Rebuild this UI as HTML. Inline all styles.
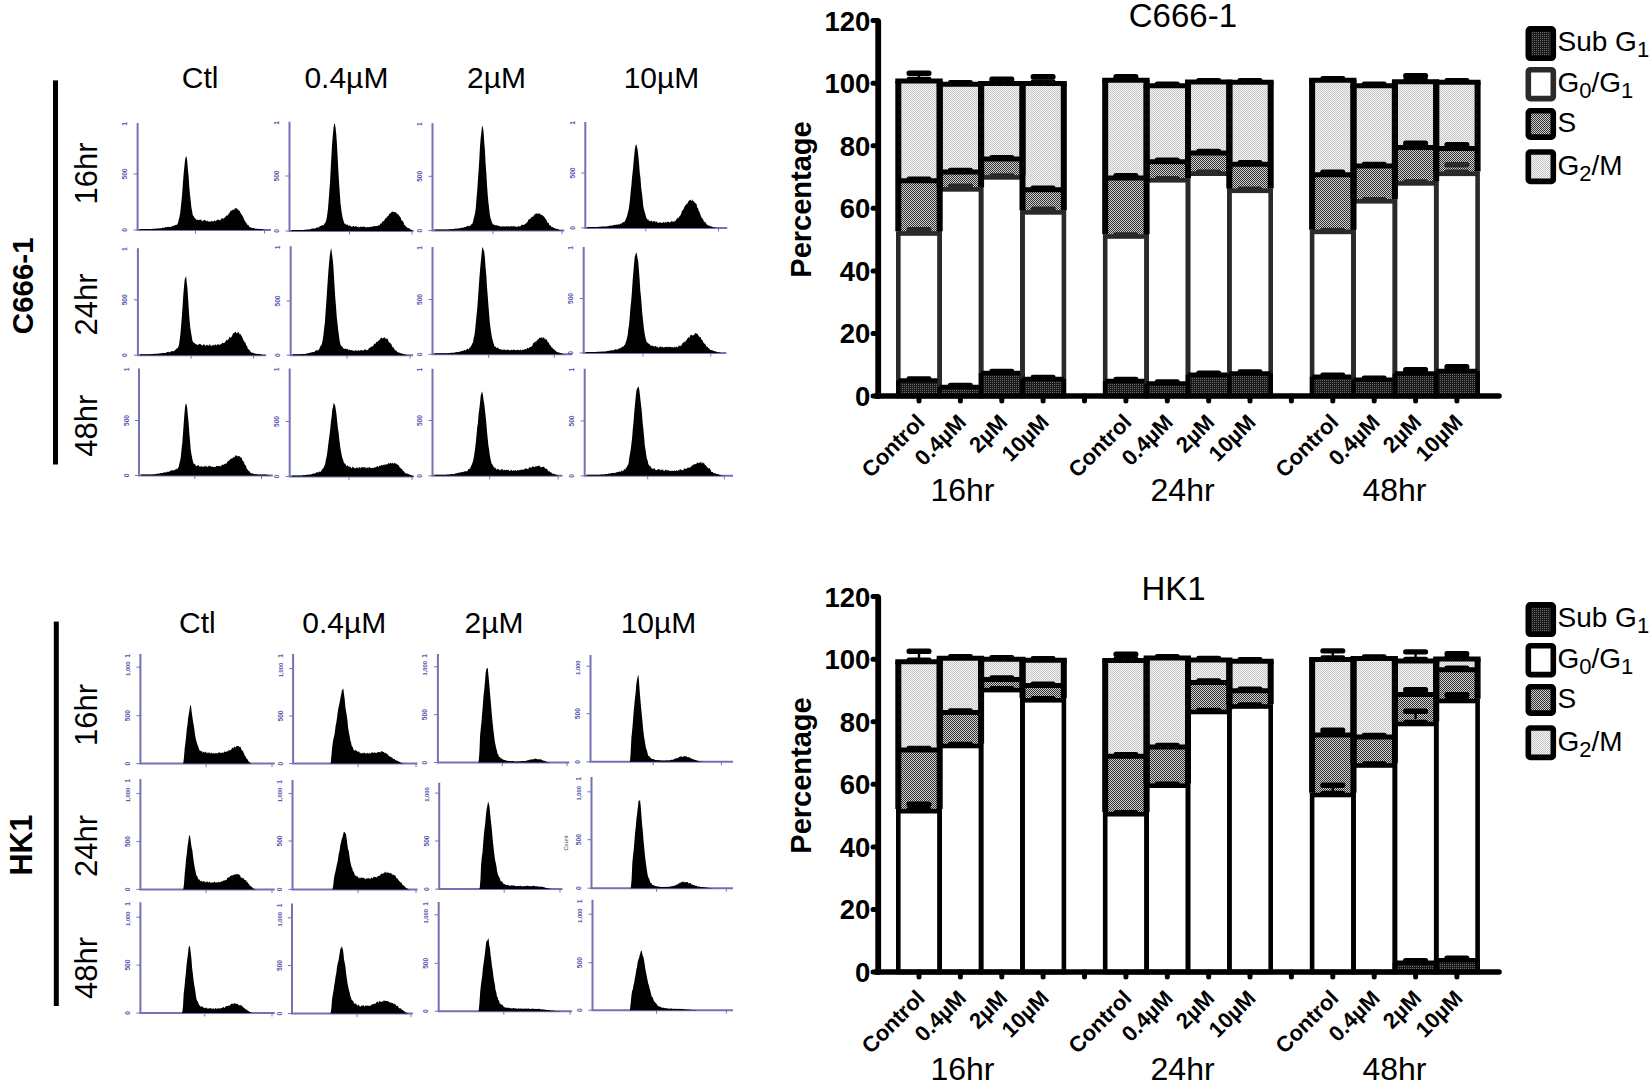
<!DOCTYPE html><html><head><meta charset="utf-8"><style>html,body{margin:0;padding:0;background:#fff;}svg{display:block;}</style></head><body><svg width="1650" height="1085" viewBox="0 0 1650 1085" font-family='"Liberation Sans", Arial, sans-serif'><defs><pattern id="pG2" width="2" height="2" patternUnits="userSpaceOnUse"><rect width="2" height="2" fill="#f4f4f4"/><rect width="1" height="1" fill="#c6c6c6"/><rect x="1" y="1" width="1" height="1" fill="#c6c6c6"/></pattern><pattern id="pS" width="2" height="2" patternUnits="userSpaceOnUse"><rect width="2" height="2" fill="#cfcfcf"/><rect width="1" height="1" fill="#303030"/><rect x="1" y="1" width="1" height="1" fill="#303030"/></pattern><pattern id="pSub" width="2" height="2" patternUnits="userSpaceOnUse"><rect width="2" height="2" fill="#1a1a1a"/><rect width="1" height="1" fill="#6a6a6a"/></pattern></defs><rect width="1650" height="1085" fill="#fff"/><text x="200.2" y="87.9" font-size="30" text-anchor="middle">Ctl</text><text x="346.4" y="87.9" font-size="30" text-anchor="middle">0.4µM</text><text x="496.6" y="87.9" font-size="30" text-anchor="middle">2µM</text><text x="661.5" y="87.9" font-size="30" text-anchor="middle">10µM</text><rect x="53.0" y="80.4" width="5" height="384.1" fill="#000"/><text transform="translate(33.0 285.8) rotate(-90)" font-size="29.5" font-weight="bold" text-anchor="middle">C666-1</text><text transform="translate(96.8 173.5) rotate(-90)" font-size="31" text-anchor="middle">16hr</text><text transform="translate(96.8 304.5) rotate(-90)" font-size="31" text-anchor="middle">24hr</text><text transform="translate(96.8 425.8) rotate(-90)" font-size="31" text-anchor="middle">48hr</text><path d="M137.6 123.0 V230.0 H271.0" fill="none" stroke="#7272b4" stroke-width="2"/><text transform="translate(127.1 124.0) rotate(-90)" font-size="6.6" font-weight="bold" fill="#5858b0" text-anchor="middle">1</text><path d="M133.6 174.0 H137.6" stroke="#7272b4" stroke-width="1"/><text transform="translate(127.1 174.0) rotate(-90)" font-size="6.6" font-weight="bold" fill="#5858b0" text-anchor="middle">500</text><path d="M133.6 230.0 H137.6" stroke="#7272b4" stroke-width="1"/><text transform="translate(127.1 230.0) rotate(-90)" font-size="6.6" font-weight="bold" fill="#5858b0" text-anchor="middle">0</text><path d="M195.5 230.0 V233.5" stroke="#7272b4" stroke-width="1"/><path d="M264.5 230.0 V233.5" stroke="#7272b4" stroke-width="1"/><path d="M139.6 230.0 L139.6 229.0 L140.3 229.0 L141.0 229.0 L141.7 229.0 L142.4 229.0 L143.1 229.0 L143.8 229.0 L144.5 229.0 L145.2 229.0 L145.9 229.0 L146.6 229.0 L147.3 229.0 L148.0 229.0 L148.7 229.0 L149.4 229.0 L150.1 229.0 L150.8 228.9 L151.5 228.9 L152.2 228.9 L152.9 228.8 L153.6 228.8 L154.3 228.8 L155.0 228.6 L155.7 228.8 L156.4 228.5 L157.1 228.5 L157.8 228.6 L158.5 228.3 L159.2 228.5 L159.9 228.2 L160.6 228.3 L161.3 228.2 L162.0 228.0 L162.7 227.6 L163.4 227.9 L164.1 227.8 L164.8 227.4 L165.5 227.1 L166.2 227.2 L166.9 227.3 L167.6 226.7 L168.3 227.3 L169.0 226.5 L169.7 226.9 L170.4 226.9 L171.1 226.8 L171.8 226.4 L172.5 225.7 L173.2 226.2 L173.9 225.6 L174.6 225.2 L175.3 225.3 L176.0 224.7 L176.7 224.9 L177.4 224.1 L178.1 222.4 L178.8 219.3 L179.5 216.7 L180.2 212.7 L180.9 206.4 L181.6 199.8 L182.3 192.1 L183.0 181.7 L183.7 172.9 L184.4 166.5 L185.1 159.6 L185.8 156.9 L186.5 156.3 L187.2 161.0 L187.9 169.5 L188.6 175.9 L189.3 187.2 L190.0 194.4 L190.7 200.5 L191.4 207.6 L192.1 211.1 L192.8 215.2 L193.5 215.9 L194.2 217.1 L194.9 218.4 L195.6 218.4 L196.3 219.9 L197.0 219.4 L197.7 219.8 L198.4 219.9 L199.1 220.3 L199.8 219.6 L200.5 219.5 L201.2 220.6 L201.9 220.3 L202.6 221.5 L203.3 220.3 L204.0 220.5 L204.7 219.8 L205.4 220.2 L206.1 221.3 L206.8 221.1 L207.5 220.6 L208.2 221.9 L208.9 221.0 L209.6 221.6 L210.3 221.7 L211.0 221.8 L211.7 220.4 L212.4 221.6 L213.1 221.4 L213.8 221.1 L214.5 220.1 L215.2 221.6 L215.9 220.8 L216.6 220.5 L217.3 219.7 L218.0 219.7 L218.7 219.4 L219.4 220.4 L220.1 219.9 L220.8 219.7 L221.5 218.4 L222.2 217.8 L222.9 219.1 L223.6 218.6 L224.3 218.0 L225.0 217.5 L225.7 216.4 L226.4 215.5 L227.1 215.6 L227.8 215.5 L228.5 213.9 L229.2 213.3 L229.9 212.2 L230.6 210.7 L231.3 210.7 L232.0 210.6 L232.7 209.8 L233.4 209.3 L234.1 210.4 L234.8 208.2 L235.5 208.4 L236.2 208.1 L236.9 208.4 L237.6 209.5 L238.3 209.8 L239.0 211.0 L239.7 210.5 L240.4 212.7 L241.1 213.8 L241.8 214.7 L242.5 216.0 L243.2 217.0 L243.9 218.9 L244.6 220.4 L245.3 221.4 L246.0 222.8 L246.7 223.4 L247.4 225.1 L248.1 224.7 L248.8 225.8 L249.5 226.9 L250.2 227.2 L250.9 227.4 L251.6 227.7 L252.3 228.1 L253.0 227.9 L253.7 228.0 L254.4 228.4 L255.1 228.5 L255.8 228.8 L256.5 228.8 L257.2 228.8 L257.9 228.8 L258.6 228.9 L259.3 228.9 L260.0 228.9 L260.7 229.0 L261.4 229.1 L262.1 229.3 L262.8 229.4 L263.5 229.6 L264.2 229.7 L264.9 229.7 L265.6 229.7 L266.0 230.0 Z" fill="#000"/><path d="M289.5 121.8 V231.0 H413.6" fill="none" stroke="#7272b4" stroke-width="2"/><text transform="translate(279.0 122.8) rotate(-90)" font-size="6.6" font-weight="bold" fill="#5858b0" text-anchor="middle">1</text><path d="M285.5 176.0 H289.5" stroke="#7272b4" stroke-width="1"/><text transform="translate(279.0 176.0) rotate(-90)" font-size="6.6" font-weight="bold" fill="#5858b0" text-anchor="middle">500</text><path d="M285.5 231.0 H289.5" stroke="#7272b4" stroke-width="1"/><text transform="translate(279.0 231.0) rotate(-90)" font-size="6.6" font-weight="bold" fill="#5858b0" text-anchor="middle">0</text><path d="M349.5 231.0 V234.5" stroke="#7272b4" stroke-width="1"/><path d="M412.0 231.0 V234.5" stroke="#7272b4" stroke-width="1"/><path d="M291.5 231.0 L291.5 230.0 L292.2 230.0 L292.9 230.0 L293.6 230.0 L294.3 230.0 L295.0 230.0 L295.7 230.0 L296.4 230.0 L297.1 230.0 L297.8 230.0 L298.5 230.0 L299.2 230.0 L299.9 230.0 L300.6 230.0 L301.3 230.0 L302.0 229.9 L302.7 229.9 L303.4 229.9 L304.1 229.8 L304.8 229.8 L305.5 229.6 L306.2 229.7 L306.9 229.7 L307.6 229.3 L308.3 229.4 L309.0 229.4 L309.7 229.2 L310.4 229.3 L311.1 229.0 L311.8 228.6 L312.5 228.5 L313.2 228.5 L313.9 228.6 L314.6 228.4 L315.3 228.4 L316.0 227.7 L316.7 227.7 L317.4 227.3 L318.1 227.5 L318.8 227.4 L319.5 226.5 L320.2 226.0 L320.9 225.9 L321.6 225.6 L322.3 225.2 L323.0 224.9 L323.7 225.2 L324.4 223.8 L325.1 222.9 L325.8 221.8 L326.5 219.1 L327.2 214.7 L327.9 209.4 L328.6 201.2 L329.3 191.5 L330.0 182.4 L330.7 168.9 L331.4 156.1 L332.1 143.9 L332.8 135.4 L333.5 128.0 L334.2 123.7 L334.9 123.7 L335.6 128.1 L336.3 134.8 L337.0 145.0 L337.7 157.8 L338.4 171.7 L339.1 182.9 L339.8 192.9 L340.5 203.4 L341.2 208.8 L341.9 213.4 L342.6 217.4 L343.3 220.0 L344.0 222.3 L344.7 224.0 L345.4 223.6 L346.1 224.9 L346.8 224.4 L347.5 224.4 L348.2 225.7 L348.9 225.8 L349.6 225.2 L350.3 225.7 L351.0 226.6 L351.7 226.8 L352.4 226.8 L353.1 225.9 L353.8 226.1 L354.5 227.1 L355.2 226.3 L355.9 226.1 L356.6 226.6 L357.3 227.0 L358.0 226.8 L358.7 227.3 L359.4 227.5 L360.1 226.4 L360.8 226.8 L361.5 226.9 L362.2 226.5 L362.9 227.0 L363.6 226.5 L364.3 226.6 L365.0 227.3 L365.7 227.3 L366.4 227.2 L367.1 227.3 L367.8 226.9 L368.5 227.2 L369.2 227.0 L369.9 227.3 L370.6 226.4 L371.3 227.0 L372.0 226.8 L372.7 226.6 L373.4 226.1 L374.1 226.6 L374.8 225.8 L375.5 226.2 L376.2 225.9 L376.9 225.7 L377.6 226.3 L378.3 225.2 L379.0 225.3 L379.7 225.2 L380.4 223.2 L381.1 223.9 L381.8 222.7 L382.5 221.5 L383.2 221.2 L383.9 220.9 L384.6 219.7 L385.3 218.8 L386.0 217.4 L386.7 218.0 L387.4 216.2 L388.1 216.1 L388.8 215.3 L389.5 213.5 L390.2 213.4 L390.9 212.8 L391.6 211.9 L392.3 211.3 L393.0 212.2 L393.7 211.7 L394.4 212.1 L395.1 212.3 L395.8 212.2 L396.5 213.2 L397.2 213.7 L397.9 214.6 L398.6 214.5 L399.3 216.0 L400.0 216.7 L400.7 217.6 L401.4 220.2 L402.1 220.7 L402.8 221.0 L403.5 222.3 L404.2 224.6 L404.9 225.5 L405.6 225.7 L406.3 226.9 L407.0 227.2 L407.7 227.9 L408.4 227.9 L409.1 228.3 L409.8 228.8 L410.5 229.6 L411.2 229.8 L411.9 230.1 L412.6 230.4 L413.0 231.0 Z" fill="#000"/><path d="M432.5 123.2 V230.6 H564.3" fill="none" stroke="#7272b4" stroke-width="2"/><text transform="translate(422.0 124.2) rotate(-90)" font-size="6.6" font-weight="bold" fill="#5858b0" text-anchor="middle">1</text><path d="M428.5 176.3 H432.5" stroke="#7272b4" stroke-width="1"/><text transform="translate(422.0 176.3) rotate(-90)" font-size="6.6" font-weight="bold" fill="#5858b0" text-anchor="middle">500</text><path d="M428.5 230.6 H432.5" stroke="#7272b4" stroke-width="1"/><text transform="translate(422.0 230.6) rotate(-90)" font-size="6.6" font-weight="bold" fill="#5858b0" text-anchor="middle">0</text><path d="M493.0 230.6 V234.1" stroke="#7272b4" stroke-width="1"/><path d="M562.0 230.6 V234.1" stroke="#7272b4" stroke-width="1"/><path d="M434.5 230.6 L434.5 229.6 L435.2 229.6 L435.9 229.6 L436.6 229.6 L437.3 229.6 L438.0 229.6 L438.7 229.6 L439.4 229.6 L440.1 229.6 L440.8 229.6 L441.5 229.6 L442.2 229.6 L442.9 229.6 L443.6 229.6 L444.3 229.6 L445.0 229.6 L445.7 229.5 L446.4 229.5 L447.1 229.5 L447.8 229.4 L448.5 229.3 L449.2 229.3 L449.9 229.4 L450.6 229.1 L451.3 229.0 L452.0 229.2 L452.7 228.9 L453.4 229.0 L454.1 228.9 L454.8 228.6 L455.5 228.6 L456.2 228.8 L456.9 228.6 L457.6 228.4 L458.3 228.4 L459.0 228.4 L459.7 228.2 L460.4 227.8 L461.1 228.2 L461.8 227.7 L462.5 227.6 L463.2 227.8 L463.9 227.4 L464.6 227.0 L465.3 226.9 L466.0 227.2 L466.7 225.9 L467.4 225.9 L468.1 225.4 L468.8 226.4 L469.5 225.9 L470.2 225.9 L470.9 224.2 L471.6 224.5 L472.3 223.8 L473.0 221.8 L473.7 218.8 L474.4 215.9 L475.1 213.0 L475.8 207.7 L476.5 198.6 L477.2 190.7 L477.9 180.0 L478.6 170.8 L479.3 159.4 L480.0 146.2 L480.7 137.8 L481.4 132.3 L482.1 125.6 L482.8 127.2 L483.5 131.1 L484.2 141.8 L484.9 149.4 L485.6 163.7 L486.3 172.7 L487.0 184.8 L487.7 194.8 L488.4 202.3 L489.1 207.9 L489.8 214.4 L490.5 218.3 L491.2 220.0 L491.9 222.3 L492.6 223.7 L493.3 224.3 L494.0 225.0 L494.7 225.1 L495.4 225.2 L496.1 225.4 L496.8 224.9 L497.5 225.8 L498.2 225.6 L498.9 226.2 L499.6 226.0 L500.3 226.6 L501.0 226.4 L501.7 226.8 L502.4 225.9 L503.1 226.2 L503.8 226.7 L504.5 226.4 L505.2 225.9 L505.9 226.9 L506.6 226.1 L507.3 226.6 L508.0 226.5 L508.7 226.1 L509.4 226.7 L510.1 226.5 L510.8 226.3 L511.5 226.0 L512.2 226.7 L512.9 226.1 L513.6 226.3 L514.3 226.3 L515.0 226.6 L515.7 226.6 L516.4 226.9 L517.1 226.8 L517.8 226.8 L518.5 225.8 L519.2 226.4 L519.9 226.4 L520.6 226.3 L521.3 225.0 L522.0 224.7 L522.7 224.7 L523.4 225.0 L524.1 224.7 L524.8 224.2 L525.5 223.4 L526.2 223.4 L526.9 222.3 L527.6 222.0 L528.3 219.9 L529.0 219.1 L529.7 219.2 L530.4 219.1 L531.1 216.8 L531.8 217.4 L532.5 216.6 L533.2 216.7 L533.9 215.2 L534.6 214.4 L535.3 213.8 L536.0 214.1 L536.7 213.1 L537.4 214.0 L538.1 213.3 L538.8 213.8 L539.5 213.2 L540.2 214.3 L540.9 214.8 L541.6 214.7 L542.3 215.6 L543.0 215.6 L543.7 216.6 L544.4 217.1 L545.1 218.3 L545.8 219.2 L546.5 220.0 L547.2 222.0 L547.9 223.1 L548.6 222.8 L549.3 225.2 L550.0 225.0 L550.7 225.8 L551.4 227.1 L552.1 226.8 L552.8 227.2 L553.5 227.8 L554.2 228.0 L554.9 228.3 L555.6 228.8 L556.3 228.8 L557.0 229.0 L557.7 229.1 L558.4 229.5 L559.1 229.7 L559.8 230.0 L560.5 230.2 L561.2 230.3 L561.9 230.3 L562.4 230.6 Z" fill="#000"/><path d="M585.3 122.0 V227.9 H727.3" fill="none" stroke="#7272b4" stroke-width="2"/><text transform="translate(574.8 123.0) rotate(-90)" font-size="6.6" font-weight="bold" fill="#5858b0" text-anchor="middle">1</text><path d="M581.3 173.0 H585.3" stroke="#7272b4" stroke-width="1"/><text transform="translate(574.8 173.0) rotate(-90)" font-size="6.6" font-weight="bold" fill="#5858b0" text-anchor="middle">500</text><path d="M581.3 227.9 H585.3" stroke="#7272b4" stroke-width="1"/><text transform="translate(574.8 227.9) rotate(-90)" font-size="6.6" font-weight="bold" fill="#5858b0" text-anchor="middle">0</text><path d="M645.8 227.9 V231.4" stroke="#7272b4" stroke-width="1"/><path d="M718.5 227.9 V231.4" stroke="#7272b4" stroke-width="1"/><path d="M587.3 227.9 L587.3 226.9 L588.0 226.9 L588.7 226.9 L589.4 226.9 L590.1 226.9 L590.8 226.9 L591.5 226.9 L592.2 226.9 L592.9 226.9 L593.6 226.9 L594.3 226.9 L595.0 226.9 L595.7 226.9 L596.4 226.9 L597.1 226.9 L597.8 226.9 L598.5 226.8 L599.2 226.8 L599.9 226.8 L600.6 226.7 L601.3 226.6 L602.0 226.5 L602.7 226.6 L603.4 226.4 L604.1 226.4 L604.8 226.3 L605.5 226.4 L606.2 226.5 L606.9 226.3 L607.6 226.2 L608.3 226.2 L609.0 225.7 L609.7 225.8 L610.4 225.7 L611.1 225.5 L611.8 225.4 L612.5 225.4 L613.2 225.6 L613.9 224.9 L614.6 224.8 L615.3 224.9 L616.0 224.7 L616.7 224.4 L617.4 224.9 L618.1 224.0 L618.8 224.4 L619.5 224.4 L620.2 224.0 L620.9 223.2 L621.6 223.7 L622.3 222.7 L623.0 221.9 L623.7 222.3 L624.4 221.9 L625.1 220.8 L625.8 219.3 L626.5 217.5 L627.2 215.6 L627.9 212.6 L628.6 210.1 L629.3 205.2 L630.0 199.3 L630.7 191.4 L631.4 185.3 L632.1 176.8 L632.8 170.7 L633.5 162.9 L634.2 155.5 L634.9 148.8 L635.6 145.3 L636.3 144.2 L637.0 147.0 L637.7 150.3 L638.4 156.6 L639.1 163.9 L639.8 172.9 L640.5 178.3 L641.2 187.9 L641.9 192.7 L642.6 199.0 L643.3 206.4 L644.0 209.5 L644.7 212.0 L645.4 214.2 L646.1 217.1 L646.8 218.8 L647.5 219.8 L648.2 219.0 L648.9 220.9 L649.6 220.5 L650.3 221.6 L651.0 221.1 L651.7 220.4 L652.4 222.1 L653.1 220.9 L653.8 221.6 L654.5 221.0 L655.2 221.5 L655.9 222.4 L656.6 221.3 L657.3 222.1 L658.0 222.9 L658.7 223.0 L659.4 222.2 L660.1 222.3 L660.8 222.6 L661.5 222.9 L662.2 222.6 L662.9 222.7 L663.6 221.8 L664.3 223.2 L665.0 222.0 L665.7 221.8 L666.4 223.0 L667.1 221.6 L667.8 221.9 L668.5 221.6 L669.2 222.6 L669.9 222.3 L670.6 222.2 L671.3 220.9 L672.0 221.5 L672.7 221.7 L673.4 221.4 L674.1 221.3 L674.8 221.4 L675.5 220.9 L676.2 218.9 L676.9 219.4 L677.6 217.5 L678.3 218.1 L679.0 217.2 L679.7 215.8 L680.4 215.5 L681.1 214.0 L681.8 211.5 L682.5 210.5 L683.2 209.4 L683.9 208.5 L684.6 206.5 L685.3 205.2 L686.0 204.9 L686.7 203.4 L687.4 204.0 L688.1 201.4 L688.8 201.3 L689.5 200.0 L690.2 199.8 L690.9 200.5 L691.6 201.1 L692.3 199.0 L693.0 201.4 L693.7 201.0 L694.4 202.1 L695.1 203.2 L695.8 203.3 L696.5 204.1 L697.2 207.4 L697.9 208.0 L698.6 210.5 L699.3 211.5 L700.0 213.5 L700.7 215.6 L701.4 217.2 L702.1 218.5 L702.8 218.5 L703.5 220.5 L704.2 222.0 L704.9 221.7 L705.6 222.4 L706.3 223.8 L707.0 224.7 L707.7 225.0 L708.4 225.5 L709.1 225.6 L709.8 226.0 L710.5 226.2 L711.2 226.4 L711.9 226.6 L712.6 226.9 L713.3 227.2 L714.0 227.4 L714.7 227.6 L715.4 227.6 L716.0 227.9 Z" fill="#000"/><path d="M137.9 248.2 V355.2 H266.2" fill="none" stroke="#7272b4" stroke-width="2"/><text transform="translate(127.4 249.2) rotate(-90)" font-size="6.6" font-weight="bold" fill="#5858b0" text-anchor="middle">1</text><path d="M133.9 299.8 H137.9" stroke="#7272b4" stroke-width="1"/><text transform="translate(127.4 299.8) rotate(-90)" font-size="6.6" font-weight="bold" fill="#5858b0" text-anchor="middle">500</text><path d="M133.9 355.2 H137.9" stroke="#7272b4" stroke-width="1"/><text transform="translate(127.4 355.2) rotate(-90)" font-size="6.6" font-weight="bold" fill="#5858b0" text-anchor="middle">0</text><path d="M191.1 355.2 V358.7" stroke="#7272b4" stroke-width="1"/><path d="M253.6 355.2 V358.7" stroke="#7272b4" stroke-width="1"/><path d="M139.9 355.2 L139.9 354.2 L140.6 354.2 L141.3 354.2 L142.0 354.2 L142.7 354.2 L143.4 354.2 L144.1 354.2 L144.8 354.2 L145.5 354.2 L146.2 354.2 L146.9 354.2 L147.6 354.2 L148.3 354.2 L149.0 354.2 L149.7 354.2 L150.4 354.2 L151.1 354.1 L151.8 354.1 L152.5 354.1 L153.2 354.0 L153.9 353.8 L154.6 353.8 L155.3 353.9 L156.0 353.8 L156.7 353.7 L157.4 353.7 L158.1 353.6 L158.8 353.7 L159.5 353.5 L160.2 353.1 L160.9 353.4 L161.6 353.2 L162.3 353.0 L163.0 352.8 L163.7 353.1 L164.4 352.9 L165.1 352.9 L165.8 352.7 L166.5 352.5 L167.2 352.0 L167.9 352.0 L168.6 351.8 L169.3 352.4 L170.0 352.3 L170.7 351.5 L171.4 351.1 L172.1 351.4 L172.8 351.1 L173.5 351.6 L174.2 350.9 L174.9 349.9 L175.6 349.7 L176.3 349.1 L177.0 348.1 L177.7 348.3 L178.4 346.8 L179.1 343.9 L179.8 339.0 L180.5 332.9 L181.2 324.8 L181.9 316.3 L182.6 306.1 L183.3 295.1 L184.0 286.7 L184.7 279.4 L185.4 277.8 L186.1 276.1 L186.8 283.0 L187.5 289.1 L188.2 300.0 L188.9 311.1 L189.6 320.4 L190.3 327.5 L191.0 332.2 L191.7 336.2 L192.4 340.4 L193.1 342.3 L193.8 342.4 L194.5 343.0 L195.2 343.8 L195.9 344.4 L196.6 343.9 L197.3 345.3 L198.0 344.8 L198.7 344.6 L199.4 343.7 L200.1 344.4 L200.8 344.0 L201.5 344.9 L202.2 345.5 L202.9 345.5 L203.6 344.1 L204.3 344.6 L205.0 345.5 L205.7 346.1 L206.4 345.1 L207.1 344.8 L207.8 345.3 L208.5 345.7 L209.2 344.8 L209.9 344.3 L210.6 345.7 L211.3 346.1 L212.0 345.5 L212.7 345.3 L213.4 344.7 L214.1 345.7 L214.8 344.4 L215.5 344.5 L216.2 344.9 L216.9 345.5 L217.6 343.8 L218.3 345.0 L219.0 343.9 L219.7 344.9 L220.4 344.7 L221.1 343.4 L221.8 344.1 L222.5 342.4 L223.2 343.0 L223.9 343.2 L224.6 342.7 L225.3 341.8 L226.0 340.7 L226.7 339.4 L227.4 340.6 L228.1 339.4 L228.8 339.1 L229.5 336.6 L230.2 337.8 L230.9 337.4 L231.6 336.7 L232.3 335.3 L233.0 333.5 L233.7 333.0 L234.4 332.9 L235.1 331.9 L235.8 331.8 L236.5 333.2 L237.2 333.5 L237.9 331.7 L238.6 332.3 L239.3 334.4 L240.0 333.3 L240.7 334.8 L241.4 335.8 L242.1 337.0 L242.8 338.6 L243.5 340.4 L244.2 341.2 L244.9 342.5 L245.6 342.7 L246.3 345.9 L247.0 345.6 L247.7 348.4 L248.4 349.3 L249.1 349.6 L249.8 350.5 L250.5 351.7 L251.2 352.5 L251.9 352.4 L252.6 352.8 L253.3 352.7 L254.0 353.4 L254.7 353.5 L255.4 353.4 L256.1 353.9 L256.8 353.8 L257.5 353.8 L258.2 353.9 L258.9 354.0 L259.6 354.1 L260.3 354.2 L261.0 354.3 L261.7 354.5 L262.4 354.7 L263.1 354.9 L263.8 354.9 L264.5 354.9 L265.2 354.9 L265.3 355.2 Z" fill="#000"/><path d="M290.7 246.3 V355.2 H413.0" fill="none" stroke="#7272b4" stroke-width="2"/><text transform="translate(280.2 247.3) rotate(-90)" font-size="6.6" font-weight="bold" fill="#5858b0" text-anchor="middle">1</text><path d="M286.7 301.0 H290.7" stroke="#7272b4" stroke-width="1"/><text transform="translate(280.2 301.0) rotate(-90)" font-size="6.6" font-weight="bold" fill="#5858b0" text-anchor="middle">500</text><path d="M286.7 355.2 H290.7" stroke="#7272b4" stroke-width="1"/><text transform="translate(280.2 355.2) rotate(-90)" font-size="6.6" font-weight="bold" fill="#5858b0" text-anchor="middle">0</text><path d="M347.0 355.2 V358.7" stroke="#7272b4" stroke-width="1"/><path d="M410.0 355.2 V358.7" stroke="#7272b4" stroke-width="1"/><path d="M292.7 355.2 L292.7 354.2 L293.4 354.2 L294.1 354.2 L294.8 354.2 L295.5 354.2 L296.2 354.2 L296.9 354.2 L297.6 354.2 L298.3 354.2 L299.0 354.2 L299.7 354.2 L300.4 354.2 L301.1 354.1 L301.8 354.1 L302.5 354.1 L303.2 354.0 L303.9 354.1 L304.6 354.0 L305.3 354.0 L306.0 353.5 L306.7 353.7 L307.4 353.3 L308.1 353.1 L308.8 353.3 L309.5 353.1 L310.2 352.5 L310.9 352.6 L311.6 352.6 L312.3 352.1 L313.0 352.2 L313.7 352.0 L314.4 352.1 L315.1 351.0 L315.8 350.5 L316.5 350.5 L317.2 349.8 L317.9 350.7 L318.6 350.0 L319.3 348.9 L320.0 347.1 L320.7 345.8 L321.4 345.2 L322.1 343.0 L322.8 339.3 L323.5 334.6 L324.2 327.7 L324.9 322.4 L325.6 312.1 L326.3 302.4 L327.0 291.6 L327.7 280.9 L328.4 270.9 L329.1 262.7 L329.8 255.6 L330.5 251.0 L331.2 248.1 L331.9 253.2 L332.6 258.5 L333.3 264.9 L334.0 277.0 L334.7 288.5 L335.4 299.2 L336.1 307.7 L336.8 317.5 L337.5 323.6 L338.2 330.3 L338.9 335.1 L339.6 340.6 L340.3 343.8 L341.0 345.7 L341.7 346.3 L342.4 346.8 L343.1 348.0 L343.8 348.8 L344.5 348.8 L345.2 348.7 L345.9 348.8 L346.6 348.9 L347.3 348.9 L348.0 349.3 L348.7 350.4 L349.4 349.3 L350.1 350.3 L350.8 350.0 L351.5 350.3 L352.2 349.9 L352.9 350.7 L353.6 350.7 L354.3 350.8 L355.0 350.9 L355.7 349.9 L356.4 350.4 L357.1 350.8 L357.8 350.7 L358.5 349.9 L359.2 350.5 L359.9 350.9 L360.6 350.1 L361.3 350.3 L362.0 349.8 L362.7 351.0 L363.4 350.4 L364.1 349.8 L364.8 349.6 L365.5 349.3 L366.2 350.5 L366.9 349.9 L367.6 350.0 L368.3 349.6 L369.0 347.8 L369.7 348.2 L370.4 347.1 L371.1 347.6 L371.8 346.1 L372.5 346.4 L373.2 346.1 L373.9 344.4 L374.6 343.3 L375.3 344.3 L376.0 342.5 L376.7 341.7 L377.4 341.9 L378.1 340.8 L378.8 340.7 L379.5 339.9 L380.2 339.3 L380.9 338.0 L381.6 337.5 L382.3 338.3 L383.0 338.6 L383.7 337.8 L384.4 337.1 L385.1 338.4 L385.8 338.4 L386.5 339.1 L387.2 338.4 L387.9 339.6 L388.6 341.6 L389.3 342.4 L390.0 342.7 L390.7 343.5 L391.4 344.3 L392.1 346.5 L392.8 347.4 L393.5 347.3 L394.2 348.8 L394.9 349.9 L395.6 350.5 L396.3 350.4 L397.0 351.7 L397.7 351.9 L398.4 352.4 L399.1 352.7 L399.8 352.7 L400.5 352.9 L401.2 353.4 L401.9 353.7 L402.6 353.6 L403.3 354.0 L404.0 354.1 L404.7 354.4 L405.4 354.6 L406.1 354.8 L406.8 354.9 L407.5 354.9 L408.0 355.2 Z" fill="#000"/><path d="M432.5 247.0 V354.3 H572.1" fill="none" stroke="#7272b4" stroke-width="2"/><text transform="translate(422.0 248.0) rotate(-90)" font-size="6.6" font-weight="bold" fill="#5858b0" text-anchor="middle">1</text><path d="M428.5 299.5 H432.5" stroke="#7272b4" stroke-width="1"/><text transform="translate(422.0 299.5) rotate(-90)" font-size="6.6" font-weight="bold" fill="#5858b0" text-anchor="middle">500</text><path d="M428.5 354.3 H432.5" stroke="#7272b4" stroke-width="1"/><text transform="translate(422.0 354.3) rotate(-90)" font-size="6.6" font-weight="bold" fill="#5858b0" text-anchor="middle">0</text><path d="M488.7 354.3 V357.8" stroke="#7272b4" stroke-width="1"/><path d="M554.3 354.3 V357.8" stroke="#7272b4" stroke-width="1"/><path d="M434.5 354.3 L434.5 353.3 L435.2 353.3 L435.9 353.3 L436.6 353.3 L437.3 353.3 L438.0 353.3 L438.7 353.3 L439.4 353.3 L440.1 353.3 L440.8 353.3 L441.5 353.3 L442.2 353.3 L442.9 353.3 L443.6 353.3 L444.3 353.3 L445.0 353.3 L445.7 353.2 L446.4 353.2 L447.1 353.2 L447.8 353.1 L448.5 353.2 L449.2 352.9 L449.9 353.0 L450.6 352.8 L451.3 352.9 L452.0 352.6 L452.7 352.7 L453.4 352.7 L454.1 352.7 L454.8 352.4 L455.5 352.2 L456.2 352.0 L456.9 352.3 L457.6 351.9 L458.3 351.9 L459.0 351.7 L459.7 351.8 L460.4 351.6 L461.1 351.2 L461.8 350.7 L462.5 351.3 L463.2 350.7 L463.9 350.2 L464.6 349.8 L465.3 350.5 L466.0 350.4 L466.7 349.1 L467.4 348.7 L468.1 349.1 L468.8 349.5 L469.5 347.4 L470.2 347.8 L470.9 346.0 L471.6 345.3 L472.3 343.3 L473.0 342.4 L473.7 338.1 L474.4 335.5 L475.1 330.1 L475.8 322.9 L476.5 315.6 L477.2 309.1 L477.9 299.9 L478.6 289.6 L479.3 279.3 L480.0 270.3 L480.7 262.7 L481.4 255.4 L482.1 248.8 L482.8 247.0 L483.5 249.9 L484.2 251.6 L484.9 257.2 L485.6 268.2 L486.3 274.9 L487.0 287.2 L487.7 295.4 L488.4 305.0 L489.1 313.4 L489.8 321.9 L490.5 328.0 L491.2 332.8 L491.9 337.3 L492.6 340.0 L493.3 342.8 L494.0 344.6 L494.7 346.7 L495.4 346.4 L496.1 347.3 L496.8 348.2 L497.5 347.6 L498.2 347.9 L498.9 348.7 L499.6 349.3 L500.3 349.0 L501.0 349.7 L501.7 349.8 L502.4 349.4 L503.1 350.0 L503.8 349.6 L504.5 349.6 L505.2 350.3 L505.9 349.6 L506.6 350.4 L507.3 349.6 L508.0 349.6 L508.7 350.0 L509.4 350.6 L510.1 350.1 L510.8 350.3 L511.5 349.6 L512.2 350.6 L512.9 349.8 L513.6 349.6 L514.3 349.9 L515.0 349.8 L515.7 350.6 L516.4 349.7 L517.1 350.2 L517.8 349.7 L518.5 349.7 L519.2 350.6 L519.9 349.8 L520.6 349.5 L521.3 350.6 L522.0 350.1 L522.7 349.5 L523.4 350.2 L524.1 349.0 L524.8 349.7 L525.5 348.7 L526.2 349.5 L526.9 348.6 L527.6 347.6 L528.3 348.5 L529.0 348.0 L529.7 347.0 L530.4 346.9 L531.1 346.9 L531.8 346.0 L532.5 345.4 L533.2 343.1 L533.9 343.0 L534.6 341.8 L535.3 342.6 L536.0 340.6 L536.7 341.4 L537.4 339.9 L538.1 339.1 L538.8 339.2 L539.5 337.6 L540.2 338.0 L540.9 337.8 L541.6 337.0 L542.3 338.7 L543.0 336.8 L543.7 337.8 L544.4 338.7 L545.1 338.2 L545.8 340.0 L546.5 339.1 L547.2 340.8 L547.9 342.2 L548.6 342.2 L549.3 343.9 L550.0 345.4 L550.7 345.2 L551.4 347.5 L552.1 346.9 L552.8 348.8 L553.5 348.9 L554.2 349.2 L554.9 350.3 L555.6 350.7 L556.3 351.4 L557.0 352.0 L557.7 352.2 L558.4 352.4 L559.1 352.4 L559.8 352.7 L560.5 353.0 L561.2 353.3 L561.9 353.6 L562.6 353.8 L563.3 354.0 L564.0 354.0 L564.3 354.3 Z" fill="#000"/><path d="M583.7 247.0 V352.9 H726.3" fill="none" stroke="#7272b4" stroke-width="2"/><text transform="translate(573.2 248.0) rotate(-90)" font-size="6.6" font-weight="bold" fill="#5858b0" text-anchor="middle">1</text><path d="M579.7 298.5 H583.7" stroke="#7272b4" stroke-width="1"/><text transform="translate(573.2 298.5) rotate(-90)" font-size="6.6" font-weight="bold" fill="#5858b0" text-anchor="middle">500</text><path d="M579.7 352.9 H583.7" stroke="#7272b4" stroke-width="1"/><text transform="translate(573.2 352.9) rotate(-90)" font-size="6.6" font-weight="bold" fill="#5858b0" text-anchor="middle">0</text><path d="M642.9 352.9 V356.4" stroke="#7272b4" stroke-width="1"/><path d="M710.8 352.9 V356.4" stroke="#7272b4" stroke-width="1"/><path d="M585.7 352.9 L585.7 351.9 L586.4 351.9 L587.1 351.9 L587.8 351.9 L588.5 351.9 L589.2 351.9 L589.9 351.9 L590.6 351.9 L591.3 351.9 L592.0 351.9 L592.7 351.9 L593.4 351.9 L594.1 351.9 L594.8 351.9 L595.5 351.9 L596.2 351.9 L596.9 351.8 L597.6 351.8 L598.3 351.8 L599.0 351.7 L599.7 351.7 L600.4 351.5 L601.1 351.7 L601.8 351.6 L602.5 351.4 L603.2 351.6 L603.9 351.6 L604.6 351.4 L605.3 351.4 L606.0 351.2 L606.7 351.2 L607.4 350.9 L608.1 350.8 L608.8 350.9 L609.5 350.6 L610.2 350.6 L610.9 350.7 L611.6 350.0 L612.3 350.4 L613.0 350.3 L613.7 350.2 L614.4 349.7 L615.1 349.3 L615.8 349.2 L616.5 349.4 L617.2 349.4 L617.9 349.5 L618.6 348.6 L619.3 348.4 L620.0 348.5 L620.7 347.8 L621.4 347.8 L622.1 346.7 L622.8 346.5 L623.5 346.8 L624.2 344.7 L624.9 345.2 L625.6 342.7 L626.3 340.8 L627.0 338.3 L627.7 335.0 L628.4 328.5 L629.1 324.6 L629.8 316.3 L630.5 307.3 L631.2 301.0 L631.9 291.8 L632.6 281.3 L633.3 272.7 L634.0 264.2 L634.7 257.1 L635.4 255.1 L636.1 252.6 L636.8 253.5 L637.5 258.2 L638.2 261.3 L638.9 269.7 L639.6 279.0 L640.3 290.5 L641.0 296.9 L641.7 305.9 L642.4 314.7 L643.1 320.8 L643.8 327.4 L644.5 332.7 L645.2 336.6 L645.9 339.2 L646.6 341.7 L647.3 342.6 L648.0 342.9 L648.7 343.8 L649.4 344.1 L650.1 344.8 L650.8 345.9 L651.5 345.6 L652.2 346.0 L652.9 345.6 L653.6 346.2 L654.3 346.8 L655.0 346.2 L655.7 345.7 L656.4 347.2 L657.1 346.1 L657.8 347.8 L658.5 347.4 L659.2 347.5 L659.9 346.6 L660.6 346.4 L661.3 346.8 L662.0 347.5 L662.7 346.6 L663.4 347.6 L664.1 347.8 L664.8 346.7 L665.5 347.1 L666.2 347.1 L666.9 347.1 L667.6 346.6 L668.3 347.4 L669.0 346.8 L669.7 347.0 L670.4 346.8 L671.1 347.4 L671.8 346.9 L672.5 347.1 L673.2 347.5 L673.9 347.6 L674.6 346.8 L675.3 347.7 L676.0 346.0 L676.7 347.2 L677.4 347.3 L678.1 346.9 L678.8 345.1 L679.5 345.9 L680.2 345.9 L680.9 345.7 L681.6 345.3 L682.3 343.5 L683.0 343.1 L683.7 342.3 L684.4 341.6 L685.1 342.4 L685.8 340.6 L686.5 340.4 L687.2 338.7 L687.9 337.9 L688.6 337.1 L689.3 338.2 L690.0 335.8 L690.7 335.0 L691.4 334.4 L692.1 335.8 L692.8 335.2 L693.5 335.1 L694.2 335.1 L694.9 333.1 L695.6 333.2 L696.3 333.7 L697.0 333.4 L697.7 334.2 L698.4 335.5 L699.1 336.5 L699.8 337.3 L700.5 336.7 L701.2 338.9 L701.9 339.7 L702.6 340.5 L703.3 342.4 L704.0 343.0 L704.7 344.1 L705.4 344.3 L706.1 345.9 L706.8 346.9 L707.5 346.6 L708.2 348.1 L708.9 348.3 L709.6 349.0 L710.3 350.0 L711.0 350.0 L711.7 350.3 L712.4 350.3 L713.1 350.8 L713.8 350.9 L714.5 351.1 L715.2 351.4 L715.9 351.4 L716.6 351.8 L717.3 352.0 L718.0 352.3 L718.7 352.5 L719.4 352.6 L720.1 352.6 L720.5 352.9 Z" fill="#000"/><path d="M139.0 368.5 V475.5 H272.8" fill="none" stroke="#7272b4" stroke-width="2"/><text transform="translate(128.5 369.5) rotate(-90)" font-size="6.6" font-weight="bold" fill="#5858b0" text-anchor="middle">1</text><path d="M135.0 420.5 H139.0" stroke="#7272b4" stroke-width="1"/><text transform="translate(128.5 420.5) rotate(-90)" font-size="6.6" font-weight="bold" fill="#5858b0" text-anchor="middle">500</text><path d="M135.0 475.5 H139.0" stroke="#7272b4" stroke-width="1"/><text transform="translate(128.5 475.5) rotate(-90)" font-size="6.6" font-weight="bold" fill="#5858b0" text-anchor="middle">0</text><path d="M194.8 475.5 V479.0" stroke="#7272b4" stroke-width="1"/><path d="M261.5 475.5 V479.0" stroke="#7272b4" stroke-width="1"/><path d="M141.0 475.5 L141.0 474.5 L141.7 474.5 L142.4 474.5 L143.1 474.5 L143.8 474.5 L144.5 474.5 L145.2 474.5 L145.9 474.5 L146.6 474.5 L147.3 474.5 L148.0 474.5 L148.7 474.5 L149.4 474.5 L150.1 474.5 L150.8 474.5 L151.5 474.4 L152.2 474.4 L152.9 474.3 L153.6 474.4 L154.3 474.1 L155.0 474.2 L155.7 474.2 L156.4 474.0 L157.1 473.7 L157.8 473.5 L158.5 473.8 L159.2 473.5 L159.9 473.4 L160.6 473.1 L161.3 473.3 L162.0 473.0 L162.7 472.9 L163.4 472.4 L164.1 472.7 L164.8 472.0 L165.5 472.4 L166.2 472.4 L166.9 471.7 L167.6 471.8 L168.3 472.0 L169.0 471.3 L169.7 471.8 L170.4 470.7 L171.1 470.6 L171.8 470.3 L172.5 470.3 L173.2 470.5 L173.9 470.3 L174.6 470.0 L175.3 468.9 L176.0 470.1 L176.7 468.2 L177.4 469.2 L178.1 468.0 L178.8 466.5 L179.5 462.9 L180.2 460.5 L180.9 456.1 L181.6 448.7 L182.3 442.8 L183.0 433.3 L183.7 423.6 L184.4 414.1 L185.1 407.1 L185.8 403.5 L186.5 404.2 L187.2 408.1 L187.9 415.7 L188.6 422.7 L189.3 432.6 L190.0 440.8 L190.7 449.3 L191.4 454.1 L192.1 457.4 L192.8 460.7 L193.5 463.5 L194.2 463.9 L194.9 463.7 L195.6 465.5 L196.3 465.9 L197.0 465.9 L197.7 465.2 L198.4 465.1 L199.1 466.5 L199.8 466.6 L200.5 466.5 L201.2 466.5 L201.9 466.1 L202.6 466.9 L203.3 466.6 L204.0 466.9 L204.7 465.4 L205.4 465.9 L206.1 467.2 L206.8 465.5 L207.5 467.2 L208.2 466.7 L208.9 465.5 L209.6 465.9 L210.3 466.0 L211.0 466.6 L211.7 467.1 L212.4 466.2 L213.1 467.2 L213.8 467.0 L214.5 466.7 L215.2 467.3 L215.9 466.6 L216.6 465.8 L217.3 465.9 L218.0 466.2 L218.7 465.9 L219.4 466.1 L220.1 466.7 L220.8 465.6 L221.5 465.8 L222.2 464.9 L222.9 464.3 L223.6 465.0 L224.3 464.3 L225.0 463.6 L225.7 463.8 L226.4 463.7 L227.1 462.2 L227.8 461.3 L228.5 460.9 L229.2 460.4 L229.9 459.4 L230.6 459.1 L231.3 458.6 L232.0 458.4 L232.7 458.1 L233.4 456.9 L234.1 457.7 L234.8 456.6 L235.5 455.4 L236.2 455.4 L236.9 455.5 L237.6 456.4 L238.3 456.1 L239.0 456.3 L239.7 456.3 L240.4 457.4 L241.1 457.6 L241.8 458.0 L242.5 460.8 L243.2 461.0 L243.9 462.0 L244.6 464.2 L245.3 465.3 L246.0 465.7 L246.7 468.8 L247.4 469.0 L248.1 470.7 L248.8 470.7 L249.5 471.4 L250.2 472.5 L250.9 473.2 L251.6 473.2 L252.3 473.5 L253.0 473.6 L253.7 473.9 L254.4 473.9 L255.1 474.0 L255.8 474.2 L256.5 474.3 L257.2 474.3 L257.9 474.4 L258.6 474.4 L259.3 474.4 L260.0 474.4 L260.7 474.5 L261.4 474.5 L262.1 474.5 L262.8 474.5 L263.5 474.5 L264.2 474.5 L264.9 474.5 L265.6 474.5 L266.3 474.6 L267.0 474.8 L267.7 474.9 L268.4 475.1 L269.1 475.2 L269.8 475.2 L270.5 475.2 L271.0 475.5 Z" fill="#000"/><path d="M289.7 368.5 V476.5 H414.0" fill="none" stroke="#7272b4" stroke-width="2"/><text transform="translate(279.2 369.5) rotate(-90)" font-size="6.6" font-weight="bold" fill="#5858b0" text-anchor="middle">1</text><path d="M285.7 421.5 H289.7" stroke="#7272b4" stroke-width="1"/><text transform="translate(279.2 421.5) rotate(-90)" font-size="6.6" font-weight="bold" fill="#5858b0" text-anchor="middle">500</text><path d="M285.7 476.5 H289.7" stroke="#7272b4" stroke-width="1"/><text transform="translate(279.2 476.5) rotate(-90)" font-size="6.6" font-weight="bold" fill="#5858b0" text-anchor="middle">0</text><path d="M349.0 476.5 V480.0" stroke="#7272b4" stroke-width="1"/><path d="M412.0 476.5 V480.0" stroke="#7272b4" stroke-width="1"/><path d="M291.7 476.5 L291.7 475.5 L292.4 475.5 L293.1 475.5 L293.8 475.5 L294.5 475.5 L295.2 475.5 L295.9 475.5 L296.6 475.5 L297.3 475.5 L298.0 475.5 L298.7 475.5 L299.4 475.5 L300.1 475.5 L300.8 475.5 L301.5 475.4 L302.2 475.4 L302.9 475.3 L303.6 475.1 L304.3 475.3 L305.0 475.1 L305.7 475.1 L306.4 474.8 L307.1 475.0 L307.8 474.5 L308.5 474.7 L309.2 474.7 L309.9 474.5 L310.6 474.3 L311.3 474.4 L312.0 473.9 L312.7 473.8 L313.4 473.4 L314.1 473.5 L314.8 473.4 L315.5 473.3 L316.2 472.5 L316.9 472.1 L317.6 472.4 L318.3 472.5 L319.0 471.5 L319.7 471.8 L320.4 471.7 L321.1 471.5 L321.8 469.8 L322.5 468.9 L323.2 468.2 L323.9 467.2 L324.6 465.2 L325.3 463.5 L326.0 458.9 L326.7 456.5 L327.4 451.4 L328.1 445.8 L328.8 440.0 L329.5 434.9 L330.2 429.2 L330.9 422.1 L331.6 417.3 L332.3 409.6 L333.0 407.0 L333.7 402.7 L334.4 404.1 L335.1 405.4 L335.8 409.7 L336.5 414.6 L337.2 421.5 L337.9 428.3 L338.6 432.3 L339.3 439.5 L340.0 445.1 L340.7 449.7 L341.4 453.4 L342.1 456.9 L342.8 459.1 L343.5 461.2 L344.2 463.4 L344.9 463.3 L345.6 464.3 L346.3 466.6 L347.0 465.4 L347.7 465.5 L348.4 466.0 L349.1 467.5 L349.8 466.2 L350.5 466.8 L351.2 468.1 L351.9 468.2 L352.6 466.4 L353.3 467.1 L354.0 467.9 L354.7 468.3 L355.4 468.3 L356.1 468.1 L356.8 467.1 L357.5 468.0 L358.2 468.4 L358.9 467.0 L359.6 467.2 L360.3 468.5 L361.0 467.1 L361.7 467.6 L362.4 467.3 L363.1 467.5 L363.8 467.1 L364.5 467.3 L365.2 467.2 L365.9 468.4 L366.6 467.4 L367.3 467.7 L368.0 467.3 L368.7 467.9 L369.4 466.9 L370.1 467.5 L370.8 468.1 L371.5 468.1 L372.2 468.2 L372.9 467.4 L373.6 468.2 L374.3 467.2 L375.0 467.8 L375.7 467.0 L376.4 466.8 L377.1 466.6 L377.8 465.8 L378.5 467.4 L379.2 465.5 L379.9 466.1 L380.6 465.7 L381.3 465.3 L382.0 464.7 L382.7 465.5 L383.4 465.2 L384.1 463.9 L384.8 465.5 L385.5 464.2 L386.2 464.0 L386.9 465.1 L387.6 463.7 L388.3 463.4 L389.0 462.7 L389.7 463.9 L390.4 462.4 L391.1 463.4 L391.8 463.4 L392.5 462.5 L393.2 464.3 L393.9 462.9 L394.6 463.1 L395.3 463.8 L396.0 462.9 L396.7 464.3 L397.4 464.6 L398.1 465.1 L398.8 465.3 L399.5 467.2 L400.2 467.5 L400.9 468.4 L401.6 469.0 L402.3 469.3 L403.0 471.1 L403.7 471.0 L404.4 472.3 L405.1 472.7 L405.8 473.4 L406.5 473.6 L407.2 473.4 L407.9 473.8 L408.6 474.0 L409.3 474.5 L410.0 474.8 L410.7 475.1 L411.4 475.3 L412.1 475.6 L412.8 475.8 L413.5 475.9 L413.7 476.5 Z" fill="#000"/><path d="M432.5 368.7 V475.8 H562.4" fill="none" stroke="#7272b4" stroke-width="2"/><text transform="translate(422.0 369.7) rotate(-90)" font-size="6.6" font-weight="bold" fill="#5858b0" text-anchor="middle">1</text><path d="M428.5 420.5 H432.5" stroke="#7272b4" stroke-width="1"/><text transform="translate(422.0 420.5) rotate(-90)" font-size="6.6" font-weight="bold" fill="#5858b0" text-anchor="middle">500</text><path d="M428.5 475.8 H432.5" stroke="#7272b4" stroke-width="1"/><text transform="translate(422.0 475.8) rotate(-90)" font-size="6.6" font-weight="bold" fill="#5858b0" text-anchor="middle">0</text><path d="M489.7 475.8 V479.3" stroke="#7272b4" stroke-width="1"/><path d="M558.1 475.8 V479.3" stroke="#7272b4" stroke-width="1"/><path d="M434.5 475.8 L434.5 474.8 L435.2 474.8 L435.9 474.8 L436.6 474.8 L437.3 474.8 L438.0 474.8 L438.7 474.8 L439.4 474.8 L440.1 474.8 L440.8 474.8 L441.5 474.8 L442.2 474.8 L442.9 474.8 L443.6 474.8 L444.3 474.8 L445.0 474.7 L445.7 474.7 L446.4 474.7 L447.1 474.6 L447.8 474.5 L448.5 474.5 L449.2 474.3 L449.9 474.5 L450.6 474.2 L451.3 474.0 L452.0 474.1 L452.7 474.2 L453.4 474.0 L454.1 474.1 L454.8 473.9 L455.5 473.3 L456.2 473.4 L456.9 473.2 L457.6 473.0 L458.3 472.7 L459.0 472.8 L459.7 472.6 L460.4 472.5 L461.1 472.2 L461.8 472.1 L462.5 471.9 L463.2 472.2 L463.9 471.5 L464.6 471.5 L465.3 470.9 L466.0 471.6 L466.7 471.3 L467.4 471.2 L468.1 469.6 L468.8 468.9 L469.5 468.7 L470.2 468.4 L470.9 466.4 L471.6 464.9 L472.3 463.3 L473.0 461.3 L473.7 457.8 L474.4 453.4 L475.1 448.6 L475.8 442.5 L476.5 435.4 L477.2 427.5 L477.9 423.0 L478.6 414.2 L479.3 409.1 L480.0 402.9 L480.7 395.7 L481.4 393.5 L482.1 391.2 L482.8 394.2 L483.5 399.4 L484.2 403.6 L484.9 409.6 L485.6 415.8 L486.3 422.9 L487.0 431.6 L487.7 438.5 L488.4 445.5 L489.1 449.4 L489.8 455.0 L490.5 458.8 L491.2 462.0 L491.9 464.3 L492.6 464.6 L493.3 467.0 L494.0 466.2 L494.7 468.6 L495.4 467.5 L496.1 469.3 L496.8 469.7 L497.5 468.6 L498.2 469.7 L498.9 468.9 L499.6 470.0 L500.3 470.4 L501.0 469.2 L501.7 469.4 L502.4 469.2 L503.1 469.5 L503.8 470.7 L504.5 469.8 L505.2 469.7 L505.9 470.2 L506.6 469.4 L507.3 470.6 L508.0 469.5 L508.7 469.9 L509.4 471.1 L510.1 471.1 L510.8 470.1 L511.5 469.8 L512.2 471.0 L512.9 470.7 L513.6 470.0 L514.3 470.9 L515.0 469.7 L515.7 470.3 L516.4 471.0 L517.1 470.5 L517.8 470.1 L518.5 470.3 L519.2 469.8 L519.9 470.7 L520.6 469.4 L521.3 470.1 L522.0 469.5 L522.7 469.4 L523.4 469.7 L524.1 469.6 L524.8 468.8 L525.5 468.3 L526.2 468.4 L526.9 468.7 L527.6 469.0 L528.3 469.3 L529.0 467.3 L529.7 467.6 L530.4 467.2 L531.1 468.0 L531.8 467.2 L532.5 466.3 L533.2 466.4 L533.9 466.7 L534.6 467.2 L535.3 466.8 L536.0 465.8 L536.7 466.7 L537.4 466.0 L538.1 466.1 L538.8 465.5 L539.5 465.7 L540.2 466.8 L540.9 467.4 L541.6 467.0 L542.3 466.9 L543.0 466.8 L543.7 466.8 L544.4 467.1 L545.1 469.2 L545.8 468.2 L546.5 468.8 L547.2 469.3 L547.9 470.4 L548.6 471.4 L549.3 471.2 L550.0 471.8 L550.7 472.4 L551.4 472.6 L552.1 473.4 L552.8 473.8 L553.5 473.7 L554.2 473.8 L554.9 474.4 L555.6 474.5 L556.3 474.8 L557.0 475.1 L557.7 475.3 L558.4 475.4 L558.5 475.8 Z" fill="#000"/><path d="M584.7 368.7 V475.8 H733.0" fill="none" stroke="#7272b4" stroke-width="2"/><text transform="translate(574.2 369.7) rotate(-90)" font-size="6.6" font-weight="bold" fill="#5858b0" text-anchor="middle">1</text><path d="M580.7 421.0 H584.7" stroke="#7272b4" stroke-width="1"/><text transform="translate(574.2 421.0) rotate(-90)" font-size="6.6" font-weight="bold" fill="#5858b0" text-anchor="middle">500</text><path d="M580.7 475.8 H584.7" stroke="#7272b4" stroke-width="1"/><text transform="translate(574.2 475.8) rotate(-90)" font-size="6.6" font-weight="bold" fill="#5858b0" text-anchor="middle">0</text><path d="M647.7 475.8 V479.3" stroke="#7272b4" stroke-width="1"/><path d="M724.3 475.8 V479.3" stroke="#7272b4" stroke-width="1"/><path d="M586.7 475.8 L586.7 474.8 L587.4 474.8 L588.1 474.8 L588.8 474.8 L589.5 474.8 L590.2 474.8 L590.9 474.8 L591.6 474.8 L592.3 474.8 L593.0 474.8 L593.7 474.8 L594.4 474.8 L595.1 474.8 L595.8 474.8 L596.5 474.8 L597.2 474.8 L597.9 474.7 L598.6 474.7 L599.3 474.7 L600.0 474.6 L600.7 474.4 L601.4 474.6 L602.1 474.4 L602.8 474.3 L603.5 474.4 L604.2 474.4 L604.9 474.3 L605.6 474.0 L606.3 473.9 L607.0 474.0 L607.7 474.1 L608.4 473.6 L609.1 473.5 L609.8 473.7 L610.5 473.4 L611.2 473.1 L611.9 472.9 L612.6 473.1 L613.3 473.0 L614.0 472.8 L614.7 473.0 L615.4 472.8 L616.1 472.7 L616.8 472.0 L617.5 472.2 L618.2 471.8 L618.9 471.8 L619.6 471.5 L620.3 471.8 L621.0 471.8 L621.7 470.2 L622.4 470.9 L623.1 471.0 L623.8 469.8 L624.5 469.1 L625.2 469.7 L625.9 468.1 L626.6 467.5 L627.3 465.8 L628.0 464.9 L628.7 462.4 L629.4 457.0 L630.1 453.2 L630.8 449.1 L631.5 442.9 L632.2 437.0 L632.9 428.1 L633.6 421.3 L634.3 411.7 L635.0 404.5 L635.7 397.1 L636.4 390.6 L637.1 388.8 L637.8 387.2 L638.5 386.5 L639.2 389.2 L639.9 394.4 L640.6 401.2 L641.3 407.1 L642.0 414.0 L642.7 423.3 L643.4 429.5 L644.1 436.9 L644.8 445.6 L645.5 449.7 L646.2 454.8 L646.9 459.1 L647.6 460.2 L648.3 463.9 L649.0 464.9 L649.7 466.0 L650.4 466.2 L651.1 467.4 L651.8 468.4 L652.5 468.6 L653.2 469.4 L653.9 468.1 L654.6 468.2 L655.3 469.8 L656.0 470.3 L656.7 470.0 L657.4 469.9 L658.1 469.0 L658.8 469.1 L659.5 469.3 L660.2 470.8 L660.9 469.5 L661.6 469.7 L662.3 469.9 L663.0 469.3 L663.7 471.0 L664.4 470.9 L665.1 469.9 L665.8 469.6 L666.5 470.1 L667.2 470.7 L667.9 470.2 L668.6 470.0 L669.3 471.1 L670.0 470.7 L670.7 470.8 L671.4 471.0 L672.1 470.5 L672.8 471.0 L673.5 470.9 L674.2 471.0 L674.9 470.1 L675.6 471.2 L676.3 470.0 L677.0 470.9 L677.7 471.1 L678.4 469.6 L679.1 470.7 L679.8 469.4 L680.5 469.5 L681.2 469.3 L681.9 470.5 L682.6 469.9 L683.3 470.4 L684.0 468.6 L684.7 468.6 L685.4 468.8 L686.1 468.8 L686.8 468.8 L687.5 467.5 L688.2 467.9 L688.9 467.2 L689.6 467.8 L690.3 467.2 L691.0 467.1 L691.7 465.4 L692.4 465.3 L693.1 465.7 L693.8 463.8 L694.5 464.6 L695.2 464.0 L695.9 464.2 L696.6 463.6 L697.3 462.2 L698.0 463.0 L698.7 463.2 L699.4 462.5 L700.1 462.8 L700.8 461.6 L701.5 463.4 L702.2 461.7 L702.9 463.9 L703.6 462.5 L704.3 463.5 L705.0 465.0 L705.7 465.1 L706.4 466.3 L707.1 467.1 L707.8 468.0 L708.5 468.5 L709.2 468.1 L709.9 468.8 L710.6 469.8 L711.3 471.7 L712.0 472.0 L712.7 471.9 L713.4 473.1 L714.1 472.9 L714.8 473.4 L715.5 473.2 L716.2 474.0 L716.9 473.8 L717.6 474.1 L718.3 474.4 L719.0 474.6 L719.7 474.7 L720.4 475.0 L721.1 475.2 L721.8 475.4 L722.5 475.5 L723.2 475.5 L723.4 475.8 Z" fill="#000"/><text x="197.4" y="632.9" font-size="30" text-anchor="middle">Ctl</text><text x="344.2" y="632.9" font-size="30" text-anchor="middle">0.4µM</text><text x="494.0" y="632.9" font-size="30" text-anchor="middle">2µM</text><text x="658.5" y="632.9" font-size="30" text-anchor="middle">10µM</text><rect x="53.8" y="621.6" width="5" height="384.4" fill="#000"/><text transform="translate(31.7 845.0) rotate(-90)" font-size="30.5" font-weight="bold" text-anchor="middle">HK1</text><text transform="translate(96.8 714.9) rotate(-90)" font-size="31" text-anchor="middle">16hr</text><text transform="translate(96.8 846.0) rotate(-90)" font-size="31" text-anchor="middle">24hr</text><text transform="translate(96.8 968.0) rotate(-90)" font-size="31" text-anchor="middle">48hr</text><path d="M140.4 654.1 V763.6 H274.7" fill="none" stroke="#7272b4" stroke-width="2"/><text transform="translate(129.9 655.9) rotate(-90)" font-size="6.6" font-weight="bold" fill="#5858b0" text-anchor="middle">1</text><path d="M136.4 667.2 H140.4" stroke="#7272b4" stroke-width="1"/><text transform="translate(129.9 668.7) rotate(-90)" font-size="5.8" font-weight="bold" fill="#5858b0" text-anchor="middle">1,000</text><path d="M136.4 715.7 H140.4" stroke="#7272b4" stroke-width="1"/><text transform="translate(129.9 715.7) rotate(-90)" font-size="6.6" font-weight="bold" fill="#5858b0" text-anchor="middle">500</text><path d="M136.4 763.6 H140.4" stroke="#7272b4" stroke-width="1"/><text transform="translate(129.9 763.6) rotate(-90)" font-size="6.6" font-weight="bold" fill="#5858b0" text-anchor="middle">0</text><path d="M206.1 763.6 V767.1" stroke="#7272b4" stroke-width="1"/><path d="M272.0 763.6 V767.1" stroke="#7272b4" stroke-width="1"/><path d="M182.6 763.6 L182.6 763.6 L183.3 763.1 L184.0 757.0 L184.7 748.3 L185.4 743.0 L186.1 736.6 L186.8 729.0 L187.5 724.6 L188.2 717.5 L188.9 713.5 L189.6 709.3 L190.3 704.7 L191.0 705.9 L191.7 712.0 L192.4 717.0 L193.1 721.9 L193.8 725.4 L194.5 730.6 L195.2 735.6 L195.9 739.6 L196.6 741.8 L197.3 744.2 L198.0 746.0 L198.7 748.1 L199.4 750.0 L200.1 751.2 L200.8 750.4 L201.5 751.5 L202.2 751.2 L202.9 752.9 L203.6 751.5 L204.3 752.7 L205.0 751.7 L205.7 751.8 L206.4 752.7 L207.1 753.7 L207.8 751.9 L208.5 752.9 L209.2 752.1 L209.9 753.4 L210.6 753.6 L211.3 752.3 L212.0 753.3 L212.7 753.7 L213.4 753.3 L214.1 752.8 L214.8 754.1 L215.5 753.0 L216.2 753.2 L216.9 753.0 L217.6 753.8 L218.3 752.6 L219.0 752.4 L219.7 752.2 L220.4 753.3 L221.1 752.5 L221.8 753.1 L222.5 752.2 L223.2 753.5 L223.9 751.7 L224.6 751.4 L225.3 752.1 L226.0 751.8 L226.7 751.5 L227.4 751.1 L228.1 751.8 L228.8 749.4 L229.5 750.6 L230.2 750.2 L230.9 749.9 L231.6 749.1 L232.3 747.3 L233.0 748.6 L233.7 748.0 L234.4 746.3 L235.1 747.2 L235.8 747.4 L236.5 745.9 L237.2 745.9 L237.9 746.1 L238.6 745.9 L239.3 747.5 L240.0 746.2 L240.7 747.2 L241.4 749.6 L242.1 750.5 L242.8 750.9 L243.5 752.2 L244.2 754.0 L244.9 755.7 L245.6 756.5 L246.3 758.3 L247.0 758.7 L247.7 759.6 L248.4 761.2 L249.1 761.8 L249.8 762.5 L250.5 762.9 L251.2 763.2 L251.2 763.6 Z" fill="#000"/><path d="M293.1 654.1 V763.6 H417.5" fill="none" stroke="#7272b4" stroke-width="2"/><text transform="translate(282.6 655.9) rotate(-90)" font-size="6.6" font-weight="bold" fill="#5858b0" text-anchor="middle">1</text><path d="M289.1 668.6 H293.1" stroke="#7272b4" stroke-width="1"/><text transform="translate(282.6 670.1) rotate(-90)" font-size="5.8" font-weight="bold" fill="#5858b0" text-anchor="middle">1,000</text><path d="M289.1 716.0 H293.1" stroke="#7272b4" stroke-width="1"/><text transform="translate(282.6 716.0) rotate(-90)" font-size="6.6" font-weight="bold" fill="#5858b0" text-anchor="middle">500</text><path d="M289.1 763.6 H293.1" stroke="#7272b4" stroke-width="1"/><text transform="translate(282.6 763.6) rotate(-90)" font-size="6.6" font-weight="bold" fill="#5858b0" text-anchor="middle">0</text><path d="M358.0 763.6 V767.1" stroke="#7272b4" stroke-width="1"/><path d="M416.0 763.6 V767.1" stroke="#7272b4" stroke-width="1"/><path d="M330.0 763.6 L330.0 763.6 L330.7 762.9 L331.4 756.0 L332.1 748.3 L332.8 742.5 L333.5 738.6 L334.2 736.1 L334.9 731.8 L335.6 726.1 L336.3 722.4 L337.0 718.1 L337.7 711.9 L338.4 707.9 L339.1 705.0 L339.8 701.5 L340.5 697.8 L341.2 694.6 L341.9 690.5 L342.6 689.6 L343.3 688.4 L344.0 693.9 L344.7 699.2 L345.4 707.3 L346.1 711.5 L346.8 715.8 L347.5 721.3 L348.2 728.3 L348.9 732.3 L349.6 735.8 L350.3 739.9 L351.0 742.3 L351.7 745.7 L352.4 746.7 L353.1 748.0 L353.8 750.2 L354.5 750.8 L355.2 749.7 L355.9 750.6 L356.6 750.7 L357.3 751.7 L358.0 751.6 L358.7 751.6 L359.4 751.8 L360.1 753.7 L360.8 752.6 L361.5 753.4 L362.2 752.7 L362.9 753.6 L363.6 753.1 L364.3 752.4 L365.0 753.0 L365.7 753.8 L366.4 753.2 L367.1 753.4 L367.8 752.4 L368.5 753.7 L369.2 753.6 L369.9 752.8 L370.6 753.8 L371.3 752.8 L372.0 752.0 L372.7 752.8 L373.4 753.1 L374.1 752.6 L374.8 752.3 L375.5 753.0 L376.2 752.9 L376.9 752.8 L377.6 752.3 L378.3 752.0 L379.0 752.1 L379.7 752.2 L380.4 752.5 L381.1 751.5 L381.8 751.0 L382.5 751.6 L383.2 751.9 L383.9 752.1 L384.6 753.3 L385.3 752.6 L386.0 753.5 L386.7 753.8 L387.4 754.1 L388.1 754.9 L388.8 755.7 L389.5 756.3 L390.2 756.8 L390.9 756.7 L391.6 757.5 L392.3 757.6 L393.0 759.0 L393.7 758.9 L394.4 758.7 L395.1 759.9 L395.8 759.9 L396.5 760.4 L397.2 760.9 L397.9 760.8 L398.6 761.6 L399.3 761.7 L400.0 762.3 L400.7 762.4 L401.4 762.7 L402.1 762.9 L402.8 763.1 L403.5 763.3 L404.2 763.4 L404.9 763.5 L405.6 763.6 L406.2 763.6 Z" fill="#000"/><path d="M437.9 654.0 V762.6 H569.2" fill="none" stroke="#7272b4" stroke-width="2"/><text transform="translate(427.4 655.8) rotate(-90)" font-size="6.6" font-weight="bold" fill="#5858b0" text-anchor="middle">1</text><path d="M433.9 666.8 H437.9" stroke="#7272b4" stroke-width="1"/><text transform="translate(427.4 668.3) rotate(-90)" font-size="5.8" font-weight="bold" fill="#5858b0" text-anchor="middle">1,000</text><path d="M433.9 714.7 H437.9" stroke="#7272b4" stroke-width="1"/><text transform="translate(427.4 714.7) rotate(-90)" font-size="6.6" font-weight="bold" fill="#5858b0" text-anchor="middle">500</text><path d="M433.9 762.6 H437.9" stroke="#7272b4" stroke-width="1"/><text transform="translate(427.4 762.6) rotate(-90)" font-size="6.6" font-weight="bold" fill="#5858b0" text-anchor="middle">0</text><path d="M502.3 762.6 V766.1" stroke="#7272b4" stroke-width="1"/><path d="M567.0 762.6 V766.1" stroke="#7272b4" stroke-width="1"/><path d="M478.0 762.6 L478.0 762.6 L478.7 761.6 L479.4 752.6 L480.1 735.6 L480.8 728.3 L481.5 721.8 L482.2 712.8 L482.9 704.2 L483.6 694.8 L484.3 688.9 L485.0 681.3 L485.7 672.6 L486.4 668.9 L487.1 668.3 L487.8 668.0 L488.5 676.0 L489.2 683.2 L489.9 691.8 L490.6 699.5 L491.3 707.9 L492.0 716.7 L492.7 723.4 L493.4 730.0 L494.1 735.8 L494.8 741.4 L495.5 744.8 L496.2 748.3 L496.9 750.5 L497.6 754.2 L498.3 754.3 L499.0 757.2 L499.7 756.8 L500.4 757.8 L501.1 758.6 L501.8 758.5 L502.5 759.3 L503.2 759.8 L503.9 759.7 L504.6 759.9 L505.3 760.3 L506.0 760.6 L506.7 760.7 L507.4 760.8 L508.1 760.7 L508.8 761.0 L509.5 761.0 L510.2 761.0 L510.9 761.1 L511.6 761.2 L512.3 761.1 L513.0 761.1 L513.7 761.2 L514.4 761.3 L515.1 761.4 L515.8 761.4 L516.5 761.4 L517.2 761.3 L517.9 761.3 L518.6 761.4 L519.3 761.2 L520.0 761.4 L520.7 761.2 L521.4 761.1 L522.1 761.1 L522.8 761.3 L523.5 761.1 L524.2 760.9 L524.9 761.2 L525.6 761.1 L526.3 760.7 L527.0 760.6 L527.7 760.2 L528.4 760.2 L529.1 760.1 L529.8 759.6 L530.5 759.8 L531.2 759.6 L531.9 759.3 L532.6 759.4 L533.3 759.3 L534.0 759.0 L534.7 759.1 L535.4 758.5 L536.1 758.7 L536.8 758.9 L537.5 759.4 L538.2 759.2 L538.9 759.2 L539.6 759.2 L540.3 759.4 L541.0 759.4 L541.7 759.6 L542.4 760.2 L543.1 760.5 L543.8 760.7 L544.5 760.8 L545.2 761.3 L545.9 761.5 L546.6 761.7 L547.3 761.9 L548.0 762.1 L548.7 762.2 L549.4 762.3 L550.1 762.4 L550.8 762.6 Z" fill="#000"/><path d="M590.5 655.1 V761.8 H733.0" fill="none" stroke="#7272b4" stroke-width="2"/><path d="M586.5 666.2 H590.5" stroke="#7272b4" stroke-width="1"/><text transform="translate(580.0 667.7) rotate(-90)" font-size="5.8" font-weight="bold" fill="#5858b0" text-anchor="middle">1,000</text><path d="M586.5 713.7 H590.5" stroke="#7272b4" stroke-width="1"/><text transform="translate(580.0 713.7) rotate(-90)" font-size="6.6" font-weight="bold" fill="#5858b0" text-anchor="middle">500</text><path d="M586.5 761.8 H590.5" stroke="#7272b4" stroke-width="1"/><text transform="translate(580.0 761.8) rotate(-90)" font-size="6.6" font-weight="bold" fill="#5858b0" text-anchor="middle">0</text><path d="M653.2 761.8 V765.3" stroke="#7272b4" stroke-width="1"/><path d="M721.4 761.8 V765.3" stroke="#7272b4" stroke-width="1"/><path d="M629.3 761.8 L629.3 761.8 L630.0 760.9 L630.7 752.0 L631.4 737.4 L632.1 730.9 L632.8 723.3 L633.5 713.5 L634.2 705.9 L634.9 699.0 L635.6 693.1 L636.3 684.1 L637.0 680.0 L637.7 676.5 L638.4 674.7 L639.1 682.8 L639.8 692.3 L640.5 701.1 L641.2 708.6 L641.9 715.7 L642.6 723.1 L643.3 730.6 L644.0 736.5 L644.7 740.5 L645.4 744.8 L646.1 748.7 L646.8 750.1 L647.5 752.9 L648.2 755.7 L648.9 756.1 L649.6 756.5 L650.3 757.8 L651.0 757.9 L651.7 759.0 L652.4 759.1 L653.1 758.9 L653.8 759.3 L654.5 759.5 L655.2 759.9 L655.9 759.9 L656.6 760.0 L657.3 760.2 L658.0 760.1 L658.7 760.2 L659.4 760.1 L660.1 760.3 L660.8 760.4 L661.5 760.5 L662.2 760.5 L662.9 760.3 L663.6 760.6 L664.3 760.6 L665.0 760.6 L665.7 760.4 L666.4 760.3 L667.1 760.3 L667.8 760.2 L668.5 760.4 L669.2 760.4 L669.9 760.0 L670.6 760.1 L671.3 759.8 L672.0 759.8 L672.7 759.8 L673.4 759.5 L674.1 759.4 L674.8 758.6 L675.5 758.6 L676.2 758.5 L676.9 758.2 L677.6 758.0 L678.3 758.1 L679.0 756.8 L679.7 757.0 L680.4 756.2 L681.1 756.8 L681.8 756.4 L682.5 756.9 L683.2 757.1 L683.9 755.7 L684.6 755.9 L685.3 756.8 L686.0 756.1 L686.7 756.4 L687.4 757.3 L688.1 757.2 L688.8 757.0 L689.5 757.8 L690.2 757.6 L690.9 758.6 L691.6 758.7 L692.3 758.7 L693.0 759.3 L693.7 759.5 L694.4 759.5 L695.1 759.9 L695.8 760.0 L696.5 760.5 L697.2 760.6 L697.9 760.8 L698.6 761.0 L699.3 761.2 L700.0 761.3 L700.7 761.4 L701.4 761.6 L702.1 761.6 L702.8 761.7 L703.5 761.8 L704.0 761.8 Z" fill="#000"/><path d="M140.4 779.1 V889.4 H274.7" fill="none" stroke="#7272b4" stroke-width="2"/><text transform="translate(129.9 780.9) rotate(-90)" font-size="6.6" font-weight="bold" fill="#5858b0" text-anchor="middle">1</text><path d="M136.4 793.6 H140.4" stroke="#7272b4" stroke-width="1"/><text transform="translate(129.9 795.1) rotate(-90)" font-size="5.8" font-weight="bold" fill="#5858b0" text-anchor="middle">1,000</text><path d="M136.4 841.6 H140.4" stroke="#7272b4" stroke-width="1"/><text transform="translate(129.9 841.6) rotate(-90)" font-size="6.6" font-weight="bold" fill="#5858b0" text-anchor="middle">500</text><path d="M136.4 889.4 H140.4" stroke="#7272b4" stroke-width="1"/><text transform="translate(129.9 889.4) rotate(-90)" font-size="6.6" font-weight="bold" fill="#5858b0" text-anchor="middle">0</text><path d="M206.1 889.4 V892.9" stroke="#7272b4" stroke-width="1"/><path d="M272.0 889.4 V892.9" stroke="#7272b4" stroke-width="1"/><path d="M182.6 889.4 L182.6 889.4 L183.3 888.9 L184.0 883.9 L184.7 873.7 L185.4 867.3 L186.1 858.8 L186.8 853.8 L187.5 846.5 L188.2 842.1 L188.9 836.6 L189.6 834.7 L190.3 837.6 L191.0 843.2 L191.7 847.8 L192.4 850.8 L193.1 857.1 L193.8 862.1 L194.5 866.4 L195.2 869.8 L195.9 872.9 L196.6 875.7 L197.3 876.2 L198.0 878.3 L198.7 879.7 L199.4 879.3 L200.1 881.1 L200.8 881.2 L201.5 880.4 L202.2 882.0 L202.9 881.6 L203.6 881.0 L204.3 881.2 L205.0 882.5 L205.7 882.3 L206.4 881.6 L207.1 882.3 L207.8 881.3 L208.5 882.8 L209.2 881.4 L209.9 882.2 L210.6 882.8 L211.3 882.4 L212.0 883.0 L212.7 881.9 L213.4 882.8 L214.1 881.6 L214.8 882.1 L215.5 882.5 L216.2 882.7 L216.9 882.0 L217.6 882.7 L218.3 881.4 L219.0 882.7 L219.7 881.9 L220.4 881.7 L221.1 882.0 L221.8 880.9 L222.5 881.4 L223.2 880.6 L223.9 880.4 L224.6 880.6 L225.3 880.0 L226.0 880.2 L226.7 879.5 L227.4 877.6 L228.1 878.1 L228.8 876.9 L229.5 877.5 L230.2 876.0 L230.9 876.0 L231.6 875.2 L232.3 875.2 L233.0 875.4 L233.7 874.6 L234.4 874.7 L235.1 874.8 L235.8 873.6 L236.5 874.6 L237.2 874.6 L237.9 873.8 L238.6 874.5 L239.3 874.7 L240.0 875.2 L240.7 877.3 L241.4 877.5 L242.1 878.6 L242.8 877.8 L243.5 878.3 L244.2 879.5 L244.9 880.0 L245.6 880.1 L246.3 880.8 L247.0 882.4 L247.7 882.1 L248.4 883.8 L249.1 884.2 L249.8 885.5 L250.5 886.3 L251.2 886.3 L251.9 887.1 L252.6 887.8 L253.3 888.4 L254.0 888.8 L254.7 889.1 L255.4 889.3 L255.9 889.4 Z" fill="#000"/><path d="M292.5 780.0 V889.4 H417.5" fill="none" stroke="#7272b4" stroke-width="2"/><text transform="translate(282.0 781.8) rotate(-90)" font-size="6.6" font-weight="bold" fill="#5858b0" text-anchor="middle">1</text><path d="M288.5 793.6 H292.5" stroke="#7272b4" stroke-width="1"/><text transform="translate(282.0 795.1) rotate(-90)" font-size="5.8" font-weight="bold" fill="#5858b0" text-anchor="middle">1,000</text><path d="M288.5 841.0 H292.5" stroke="#7272b4" stroke-width="1"/><text transform="translate(282.0 841.0) rotate(-90)" font-size="6.6" font-weight="bold" fill="#5858b0" text-anchor="middle">500</text><path d="M288.5 889.4 H292.5" stroke="#7272b4" stroke-width="1"/><text transform="translate(282.0 889.4) rotate(-90)" font-size="6.6" font-weight="bold" fill="#5858b0" text-anchor="middle">0</text><path d="M358.0 889.4 V892.9" stroke="#7272b4" stroke-width="1"/><path d="M416.0 889.4 V892.9" stroke="#7272b4" stroke-width="1"/><path d="M331.9 889.4 L331.9 889.4 L332.6 888.9 L333.3 884.7 L334.0 878.1 L334.7 874.6 L335.4 871.7 L336.1 868.3 L336.8 864.8 L337.5 862.1 L338.2 857.7 L338.9 853.0 L339.6 850.6 L340.3 845.1 L341.0 842.5 L341.7 838.9 L342.4 837.6 L343.1 834.7 L343.8 832.1 L344.5 831.9 L345.2 832.9 L345.9 834.1 L346.6 838.3 L347.3 843.9 L348.0 848.9 L348.7 850.9 L349.4 855.6 L350.1 860.9 L350.8 863.7 L351.5 867.0 L352.2 867.9 L352.9 871.3 L353.6 871.4 L354.3 873.2 L355.0 875.7 L355.7 875.2 L356.4 876.5 L357.1 876.2 L357.8 876.4 L358.5 877.9 L359.2 878.5 L359.9 876.9 L360.6 878.2 L361.3 877.3 L362.0 877.9 L362.7 877.8 L363.4 877.7 L364.1 878.2 L364.8 878.6 L365.5 879.5 L366.2 878.1 L366.9 878.7 L367.6 878.5 L368.3 877.6 L369.0 879.2 L369.7 877.9 L370.4 879.3 L371.1 877.8 L371.8 877.5 L372.5 878.5 L373.2 877.7 L373.9 876.6 L374.6 877.0 L375.3 877.0 L376.0 877.3 L376.7 877.4 L377.4 876.4 L378.1 875.9 L378.8 876.0 L379.5 875.4 L380.2 875.4 L380.9 873.7 L381.6 873.4 L382.3 874.1 L383.0 873.7 L383.7 872.9 L384.4 872.8 L385.1 871.5 L385.8 872.8 L386.5 872.9 L387.2 871.6 L387.9 873.3 L388.6 872.5 L389.3 873.3 L390.0 872.5 L390.7 873.4 L391.4 873.2 L392.1 874.9 L392.8 874.2 L393.5 874.7 L394.2 875.4 L394.9 875.3 L395.6 875.7 L396.3 877.9 L397.0 878.2 L397.7 878.8 L398.4 879.9 L399.1 881.0 L399.8 881.4 L400.5 882.4 L401.2 882.3 L401.9 883.6 L402.6 884.9 L403.3 885.3 L404.0 885.8 L404.7 886.6 L405.4 887.3 L406.1 887.9 L406.8 888.2 L407.5 888.6 L408.2 889.0 L408.9 889.2 L409.6 889.4 L410.0 889.4 Z" fill="#000"/><path d="M439.2 782.8 V889.1 H562.4" fill="none" stroke="#7272b4" stroke-width="2"/><path d="M435.2 793.1 H439.2" stroke="#7272b4" stroke-width="1"/><text transform="translate(428.7 794.6) rotate(-90)" font-size="5.8" font-weight="bold" fill="#5858b0" text-anchor="middle">1,000</text><path d="M435.2 841.0 H439.2" stroke="#7272b4" stroke-width="1"/><text transform="translate(428.7 841.0) rotate(-90)" font-size="6.6" font-weight="bold" fill="#5858b0" text-anchor="middle">500</text><path d="M435.2 889.1 H439.2" stroke="#7272b4" stroke-width="1"/><text transform="translate(428.7 889.1) rotate(-90)" font-size="6.6" font-weight="bold" fill="#5858b0" text-anchor="middle">0</text><path d="M504.2 889.1 V892.6" stroke="#7272b4" stroke-width="1"/><path d="M560.0 889.1 V892.6" stroke="#7272b4" stroke-width="1"/><path d="M479.0 889.1 L479.0 889.1 L479.7 888.2 L480.4 880.3 L481.1 864.4 L481.8 857.3 L482.5 852.3 L483.2 843.1 L483.9 834.5 L484.6 828.1 L485.3 822.2 L486.0 814.3 L486.7 808.8 L487.4 805.5 L488.1 801.6 L488.8 803.6 L489.5 806.8 L490.2 814.3 L490.9 821.1 L491.6 827.0 L492.3 834.7 L493.0 842.5 L493.7 848.7 L494.4 854.7 L495.1 860.2 L495.8 862.9 L496.5 866.8 L497.2 871.5 L497.9 874.5 L498.6 875.9 L499.3 877.3 L500.0 878.7 L500.7 881.4 L501.4 881.1 L502.1 881.8 L502.8 882.6 L503.5 883.8 L504.2 884.4 L504.9 883.7 L505.6 884.7 L506.3 884.9 L507.0 884.8 L507.7 885.2 L508.4 884.8 L509.1 885.6 L509.8 885.9 L510.5 885.4 L511.2 885.4 L511.9 885.3 L512.6 885.5 L513.3 885.4 L514.0 885.4 L514.7 885.8 L515.4 885.9 L516.1 886.2 L516.8 886.1 L517.5 885.9 L518.2 886.3 L518.9 885.8 L519.6 886.3 L520.3 886.1 L521.0 885.6 L521.7 886.4 L522.4 886.4 L523.1 886.1 L523.8 886.3 L524.5 885.9 L525.2 886.5 L525.9 885.8 L526.6 885.8 L527.3 885.8 L528.0 886.1 L528.7 886.3 L529.4 886.0 L530.1 886.1 L530.8 886.2 L531.5 886.2 L532.2 886.1 L532.9 886.0 L533.6 885.8 L534.3 885.8 L535.0 886.4 L535.7 886.3 L536.4 886.2 L537.1 886.2 L537.8 886.4 L538.5 886.6 L539.2 886.8 L539.9 886.7 L540.6 886.8 L541.3 886.6 L542.0 886.8 L542.7 887.0 L543.4 887.1 L544.1 887.3 L544.8 887.6 L545.5 887.7 L546.2 888.0 L546.9 888.1 L547.6 888.3 L548.3 888.4 L549.0 888.5 L549.7 888.6 L550.4 888.8 L551.1 888.9 L551.8 888.9 L552.5 889.0 L553.2 889.1 L553.9 889.1 L554.6 889.1 Z" fill="#000"/><path d="M591.5 777.0 V888.2 H733.0" fill="none" stroke="#7272b4" stroke-width="2"/><text transform="translate(581.0 778.8) rotate(-90)" font-size="6.6" font-weight="bold" fill="#5858b0" text-anchor="middle">1</text><path d="M587.5 791.8 H591.5" stroke="#7272b4" stroke-width="1"/><text transform="translate(581.0 793.3) rotate(-90)" font-size="5.8" font-weight="bold" fill="#5858b0" text-anchor="middle">1,000</text><path d="M587.5 839.7 H591.5" stroke="#7272b4" stroke-width="1"/><text transform="translate(581.0 839.7) rotate(-90)" font-size="6.6" font-weight="bold" fill="#5858b0" text-anchor="middle">500</text><path d="M587.5 888.2 H591.5" stroke="#7272b4" stroke-width="1"/><text transform="translate(581.0 888.2) rotate(-90)" font-size="6.6" font-weight="bold" fill="#5858b0" text-anchor="middle">0</text><path d="M656.5 888.2 V891.7" stroke="#7272b4" stroke-width="1"/><path d="M726.3 888.2 V891.7" stroke="#7272b4" stroke-width="1"/><path d="M630.2 888.2 L630.2 888.2 L630.9 887.2 L631.6 878.9 L632.3 863.6 L633.0 855.9 L633.7 849.9 L634.4 841.6 L635.1 832.7 L635.8 826.4 L636.5 818.4 L637.2 812.9 L637.9 807.0 L638.6 800.7 L639.3 801.1 L640.0 799.5 L640.7 805.9 L641.4 815.0 L642.1 824.6 L642.8 831.1 L643.5 840.2 L644.2 847.4 L644.9 854.9 L645.6 860.9 L646.3 866.1 L647.0 871.0 L647.7 875.2 L648.4 877.8 L649.1 878.6 L649.8 881.0 L650.5 883.0 L651.2 882.8 L651.9 884.3 L652.6 885.0 L653.3 885.0 L654.0 885.6 L654.7 885.7 L655.4 885.9 L656.1 886.3 L656.8 886.3 L657.5 886.6 L658.2 886.5 L658.9 886.6 L659.6 886.9 L660.3 886.8 L661.0 887.0 L661.7 886.9 L662.4 886.8 L663.1 886.9 L663.8 886.9 L664.5 886.9 L665.2 887.1 L665.9 886.8 L666.6 886.9 L667.3 887.0 L668.0 886.7 L668.7 886.8 L669.4 886.8 L670.1 886.4 L670.8 886.4 L671.5 886.2 L672.2 886.3 L672.9 885.8 L673.6 886.0 L674.3 885.7 L675.0 885.3 L675.7 885.4 L676.4 884.6 L677.1 884.7 L677.8 884.3 L678.5 883.5 L679.2 883.6 L679.9 882.6 L680.6 882.8 L681.3 882.1 L682.0 882.4 L682.7 881.6 L683.4 881.6 L684.1 882.8 L684.8 881.8 L685.5 882.5 L686.2 881.9 L686.9 882.1 L687.6 882.1 L688.3 883.5 L689.0 883.3 L689.7 883.0 L690.4 883.1 L691.1 883.7 L691.8 884.8 L692.5 884.4 L693.2 885.2 L693.9 885.1 L694.6 885.2 L695.3 885.9 L696.0 885.6 L696.7 886.0 L697.4 886.4 L698.1 886.6 L698.8 886.6 L699.5 886.6 L700.2 886.8 L700.9 887.0 L701.6 887.1 L702.3 887.0 L703.0 887.1 L703.7 887.2 L704.4 887.2 L705.1 887.3 L705.8 887.4 L706.5 887.5 L707.2 887.6 L707.9 887.7 L708.6 887.8 L709.3 887.9 L710.0 888.0 L710.7 888.0 L711.4 888.1 L712.1 888.1 L712.8 888.2 L713.5 888.2 L713.7 888.2 Z" fill="#000"/><path d="M140.4 902.2 V1013.0 H274.7" fill="none" stroke="#7272b4" stroke-width="2"/><text transform="translate(129.9 904.0) rotate(-90)" font-size="6.6" font-weight="bold" fill="#5858b0" text-anchor="middle">1</text><path d="M136.4 917.2 H140.4" stroke="#7272b4" stroke-width="1"/><text transform="translate(129.9 918.7) rotate(-90)" font-size="5.8" font-weight="bold" fill="#5858b0" text-anchor="middle">1,000</text><path d="M136.4 965.1 H140.4" stroke="#7272b4" stroke-width="1"/><text transform="translate(129.9 965.1) rotate(-90)" font-size="6.6" font-weight="bold" fill="#5858b0" text-anchor="middle">500</text><path d="M136.4 1013.0 H140.4" stroke="#7272b4" stroke-width="1"/><text transform="translate(129.9 1013.0) rotate(-90)" font-size="6.6" font-weight="bold" fill="#5858b0" text-anchor="middle">0</text><path d="M204.8 1013.0 V1016.5" stroke="#7272b4" stroke-width="1"/><path d="M272.0 1013.0 V1016.5" stroke="#7272b4" stroke-width="1"/><path d="M181.6 1013.0 L181.6 1013.0 L182.3 1012.3 L183.0 1006.2 L183.7 993.4 L184.4 987.7 L185.1 980.1 L185.8 973.7 L186.5 965.4 L187.2 959.6 L187.9 954.6 L188.6 947.7 L189.3 946.1 L190.0 946.5 L190.7 952.4 L191.4 958.4 L192.1 967.7 L192.8 973.3 L193.5 980.0 L194.2 984.8 L194.9 988.8 L195.6 993.2 L196.3 998.3 L197.0 1000.7 L197.7 1001.3 L198.4 1003.2 L199.1 1004.9 L199.8 1005.5 L200.5 1006.7 L201.2 1005.9 L201.9 1007.1 L202.6 1006.5 L203.3 1007.2 L204.0 1008.3 L204.7 1008.0 L205.4 1008.3 L206.1 1007.3 L206.8 1007.9 L207.5 1008.7 L208.2 1008.6 L208.9 1008.4 L209.6 1008.3 L210.3 1008.1 L211.0 1008.4 L211.7 1008.5 L212.4 1009.0 L213.1 1008.2 L213.8 1008.6 L214.5 1009.0 L215.2 1008.4 L215.9 1007.7 L216.6 1009.0 L217.3 1008.8 L218.0 1008.1 L218.7 1008.6 L219.4 1008.6 L220.1 1008.2 L220.8 1008.5 L221.5 1007.9 L222.2 1007.9 L222.9 1007.1 L223.6 1006.9 L224.3 1008.3 L225.0 1007.2 L225.7 1006.6 L226.4 1006.1 L227.1 1006.0 L227.8 1006.0 L228.5 1005.6 L229.2 1005.8 L229.9 1005.6 L230.6 1004.3 L231.3 1003.9 L232.0 1003.5 L232.7 1003.7 L233.4 1004.3 L234.1 1003.3 L234.8 1003.2 L235.5 1003.7 L236.2 1003.5 L236.9 1004.2 L237.6 1004.0 L238.3 1004.5 L239.0 1005.4 L239.7 1005.2 L240.4 1005.5 L241.1 1004.6 L241.8 1005.9 L242.5 1006.6 L243.2 1007.3 L243.9 1007.8 L244.6 1008.2 L245.3 1009.0 L246.0 1009.7 L246.7 1009.4 L247.4 1010.3 L248.1 1010.8 L248.8 1011.3 L249.5 1011.8 L250.2 1012.1 L250.9 1012.4 L251.6 1012.7 L252.3 1012.9 L253.0 1012.9 L253.1 1013.0 Z" fill="#000"/><path d="M292.0 903.5 V1013.6 H412.8" fill="none" stroke="#7272b4" stroke-width="2"/><text transform="translate(281.5 905.3) rotate(-90)" font-size="6.6" font-weight="bold" fill="#5858b0" text-anchor="middle">1</text><path d="M288.0 917.8 H292.0" stroke="#7272b4" stroke-width="1"/><text transform="translate(281.5 919.3) rotate(-90)" font-size="5.8" font-weight="bold" fill="#5858b0" text-anchor="middle">1,000</text><path d="M288.0 965.5 H292.0" stroke="#7272b4" stroke-width="1"/><text transform="translate(281.5 965.5) rotate(-90)" font-size="6.6" font-weight="bold" fill="#5858b0" text-anchor="middle">500</text><path d="M288.0 1013.6 H292.0" stroke="#7272b4" stroke-width="1"/><text transform="translate(281.5 1013.6) rotate(-90)" font-size="6.6" font-weight="bold" fill="#5858b0" text-anchor="middle">0</text><path d="M357.0 1013.6 V1017.1" stroke="#7272b4" stroke-width="1"/><path d="M411.0 1013.6 V1017.1" stroke="#7272b4" stroke-width="1"/><path d="M330.0 1013.6 L330.0 1013.6 L330.7 1012.9 L331.4 1007.5 L332.1 999.1 L332.8 994.4 L333.5 990.7 L334.2 985.6 L334.9 981.7 L335.6 976.2 L336.3 973.3 L337.0 967.0 L337.7 963.5 L338.4 960.9 L339.1 956.9 L339.8 952.3 L340.5 948.3 L341.2 948.4 L341.9 945.8 L342.6 948.6 L343.3 951.8 L344.0 959.2 L344.7 962.8 L345.4 966.6 L346.1 973.4 L346.8 978.2 L347.5 983.2 L348.2 986.8 L348.9 990.1 L349.6 992.2 L350.3 996.0 L351.0 997.7 L351.7 999.9 L352.4 1000.5 L353.1 1001.1 L353.8 1002.4 L354.5 1004.1 L355.2 1003.5 L355.9 1003.5 L356.6 1004.6 L357.3 1005.9 L358.0 1004.7 L358.7 1004.7 L359.4 1005.9 L360.1 1006.4 L360.8 1006.4 L361.5 1005.8 L362.2 1005.2 L362.9 1005.7 L363.6 1005.1 L364.3 1006.5 L365.0 1006.2 L365.7 1005.4 L366.4 1005.5 L367.1 1005.9 L367.8 1005.3 L368.5 1005.8 L369.2 1006.2 L369.9 1005.3 L370.6 1005.9 L371.3 1004.5 L372.0 1004.8 L372.7 1004.3 L373.4 1003.8 L374.1 1004.2 L374.8 1003.5 L375.5 1004.1 L376.2 1001.9 L376.9 1002.4 L377.6 1001.2 L378.3 1002.9 L379.0 1001.4 L379.7 1001.0 L380.4 1001.6 L381.1 1001.9 L381.8 1001.7 L382.5 1001.6 L383.2 1000.2 L383.9 1001.7 L384.6 1000.2 L385.3 1001.1 L386.0 1001.0 L386.7 1001.0 L387.4 1001.3 L388.1 1001.3 L388.8 1001.7 L389.5 1002.5 L390.2 1002.0 L390.9 1003.3 L391.6 1002.6 L392.3 1002.9 L393.0 1003.1 L393.7 1004.4 L394.4 1003.7 L395.1 1003.7 L395.8 1005.1 L396.5 1005.9 L397.2 1005.9 L397.9 1005.6 L398.6 1007.7 L399.3 1008.5 L400.0 1008.1 L400.7 1008.4 L401.4 1008.9 L402.1 1009.9 L402.8 1009.8 L403.5 1011.0 L404.2 1011.1 L404.9 1011.9 L405.6 1012.3 L406.3 1012.5 L407.0 1012.9 L407.7 1013.1 L408.4 1013.4 L409.1 1013.5 L409.8 1013.6 L410.0 1013.6 Z" fill="#000"/><path d="M438.7 902.0 V1011.2 H572.1" fill="none" stroke="#7272b4" stroke-width="2"/><text transform="translate(428.2 903.8) rotate(-90)" font-size="6.6" font-weight="bold" fill="#5858b0" text-anchor="middle">1</text><path d="M434.7 914.8 H438.7" stroke="#7272b4" stroke-width="1"/><text transform="translate(428.2 916.3) rotate(-90)" font-size="5.8" font-weight="bold" fill="#5858b0" text-anchor="middle">1,000</text><path d="M434.7 963.3 H438.7" stroke="#7272b4" stroke-width="1"/><text transform="translate(428.2 963.3) rotate(-90)" font-size="6.6" font-weight="bold" fill="#5858b0" text-anchor="middle">500</text><path d="M434.7 1011.2 H438.7" stroke="#7272b4" stroke-width="1"/><text transform="translate(428.2 1011.2) rotate(-90)" font-size="6.6" font-weight="bold" fill="#5858b0" text-anchor="middle">0</text><path d="M503.8 1011.2 V1014.7" stroke="#7272b4" stroke-width="1"/><path d="M570.0 1011.2 V1014.7" stroke="#7272b4" stroke-width="1"/><path d="M478.0 1011.2 L478.0 1011.2 L478.7 1010.4 L479.4 1003.8 L480.1 993.1 L480.8 986.1 L481.5 980.7 L482.2 976.0 L482.9 967.9 L483.6 963.5 L484.3 958.3 L485.0 952.7 L485.7 945.9 L486.4 941.3 L487.1 940.9 L487.8 939.6 L488.5 938.0 L489.2 945.0 L489.9 947.9 L490.6 954.9 L491.3 959.9 L492.0 966.3 L492.7 970.3 L493.4 976.3 L494.1 981.3 L494.8 984.1 L495.5 989.9 L496.2 991.8 L496.9 996.2 L497.6 997.3 L498.3 999.9 L499.0 1000.6 L499.7 1003.5 L500.4 1003.6 L501.1 1004.7 L501.8 1004.5 L502.5 1005.1 L503.2 1006.1 L503.9 1007.0 L504.6 1007.2 L505.3 1007.4 L506.0 1007.4 L506.7 1007.8 L507.4 1008.0 L508.1 1007.6 L508.8 1007.8 L509.5 1008.2 L510.2 1007.7 L510.9 1008.4 L511.6 1008.2 L512.3 1008.6 L513.0 1008.1 L513.7 1008.1 L514.4 1008.6 L515.1 1008.3 L515.8 1008.3 L516.5 1008.7 L517.2 1008.7 L517.9 1008.6 L518.6 1008.3 L519.3 1008.8 L520.0 1008.5 L520.7 1008.6 L521.4 1008.7 L522.1 1008.6 L522.8 1008.4 L523.5 1008.9 L524.2 1008.4 L524.9 1008.8 L525.6 1008.5 L526.3 1008.4 L527.0 1008.9 L527.7 1008.4 L528.4 1008.3 L529.1 1008.8 L529.8 1009.0 L530.5 1009.0 L531.2 1008.4 L531.9 1009.0 L532.6 1008.4 L533.3 1008.9 L534.0 1008.6 L534.7 1009.0 L535.4 1009.0 L536.1 1008.7 L536.8 1009.1 L537.5 1009.0 L538.2 1008.7 L538.9 1008.9 L539.6 1008.8 L540.3 1008.9 L541.0 1009.4 L541.7 1009.4 L542.4 1009.2 L543.1 1009.3 L543.8 1009.7 L544.5 1009.6 L545.2 1009.8 L545.9 1009.8 L546.6 1010.0 L547.3 1010.1 L548.0 1010.0 L548.7 1010.1 L549.4 1010.2 L550.1 1010.3 L550.8 1010.4 L551.5 1010.4 L552.2 1010.5 L552.9 1010.6 L553.6 1010.7 L554.3 1010.8 L555.0 1010.8 L555.7 1010.9 L556.4 1010.9 L557.1 1011.0 L557.8 1011.0 L558.5 1011.1 L559.2 1011.1 L559.9 1011.2 L560.6 1011.2 L561.3 1011.2 L562.0 1011.2 L562.4 1011.2 Z" fill="#000"/><path d="M592.5 899.7 V1010.2 H733.0" fill="none" stroke="#7272b4" stroke-width="2"/><text transform="translate(582.0 901.5) rotate(-90)" font-size="6.6" font-weight="bold" fill="#5858b0" text-anchor="middle">1</text><path d="M588.5 914.2 H592.5" stroke="#7272b4" stroke-width="1"/><text transform="translate(582.0 915.7) rotate(-90)" font-size="5.8" font-weight="bold" fill="#5858b0" text-anchor="middle">1,000</text><path d="M588.5 962.7 H592.5" stroke="#7272b4" stroke-width="1"/><text transform="translate(582.0 962.7) rotate(-90)" font-size="6.6" font-weight="bold" fill="#5858b0" text-anchor="middle">500</text><path d="M588.5 1010.2 H592.5" stroke="#7272b4" stroke-width="1"/><text transform="translate(582.0 1010.2) rotate(-90)" font-size="6.6" font-weight="bold" fill="#5858b0" text-anchor="middle">0</text><path d="M656.5 1010.2 V1013.7" stroke="#7272b4" stroke-width="1"/><path d="M726.3 1010.2 V1013.7" stroke="#7272b4" stroke-width="1"/><path d="M629.3 1010.2 L629.3 1010.2 L630.0 1009.6 L630.7 1002.9 L631.4 996.1 L632.1 991.0 L632.8 989.6 L633.5 985.3 L634.2 982.5 L634.9 977.9 L635.6 974.7 L636.3 969.4 L637.0 967.2 L637.7 961.9 L638.4 959.4 L639.1 957.8 L639.8 954.8 L640.5 952.6 L641.2 950.2 L641.9 951.6 L642.6 955.4 L643.3 956.5 L644.0 960.3 L644.7 964.3 L645.4 969.2 L646.1 973.0 L646.8 976.2 L647.5 980.1 L648.2 983.4 L648.9 985.3 L649.6 988.5 L650.3 990.8 L651.0 993.7 L651.7 996.6 L652.4 997.0 L653.1 998.8 L653.8 1000.5 L654.5 1001.7 L655.2 1002.5 L655.9 1002.9 L656.6 1003.9 L657.3 1004.9 L658.0 1005.9 L658.7 1006.4 L659.4 1006.6 L660.1 1006.4 L660.8 1007.2 L661.5 1007.4 L662.2 1007.6 L662.9 1007.9 L663.6 1007.5 L664.3 1008.3 L665.0 1008.0 L665.7 1007.9 L666.4 1008.4 L667.1 1008.3 L667.8 1008.5 L668.5 1008.6 L669.2 1008.7 L669.9 1008.7 L670.6 1008.5 L671.3 1008.5 L672.0 1008.5 L672.7 1008.9 L673.4 1008.7 L674.1 1008.8 L674.8 1008.7 L675.5 1008.8 L676.2 1008.9 L676.9 1008.7 L677.6 1009.0 L678.3 1008.8 L679.0 1008.8 L679.7 1008.9 L680.4 1008.9 L681.1 1008.8 L681.8 1009.0 L682.5 1009.1 L683.2 1009.1 L683.9 1009.2 L684.6 1009.2 L685.3 1009.3 L686.0 1009.4 L686.7 1009.4 L687.4 1009.5 L688.1 1009.6 L688.8 1009.6 L689.5 1009.7 L690.2 1009.8 L690.9 1009.8 L691.6 1009.9 L692.3 1009.9 L693.0 1010.0 L693.7 1010.0 L694.4 1010.1 L695.1 1010.1 L695.8 1010.1 L696.5 1010.2 L697.2 1010.2 L697.9 1010.2 L698.2 1010.2 Z" fill="#000"/><text transform="translate(567.5 843) rotate(-90)" font-size="5.6" fill="#444" text-anchor="middle">Count</text><rect x="898.3" y="81.0" width="41.4" height="99.8" fill="url(#pG2)"/><rect x="898.3" y="180.8" width="41.4" height="52.7" fill="url(#pS)"/><rect x="898.3" y="233.5" width="41.4" height="147.0" fill="#fff"/><rect x="898.3" y="380.5" width="41.4" height="15.5" fill="url(#pSub)"/><rect x="939.7" y="84.3" width="41.4" height="87.7" fill="url(#pG2)"/><rect x="939.7" y="172.0" width="41.4" height="17.4" fill="url(#pS)"/><rect x="939.7" y="189.4" width="41.4" height="197.6" fill="#fff"/><rect x="939.7" y="387.0" width="41.4" height="9.0" fill="url(#pSub)"/><rect x="981.1" y="83.5" width="41.4" height="75.6" fill="url(#pG2)"/><rect x="981.1" y="159.1" width="41.4" height="18.3" fill="url(#pS)"/><rect x="981.1" y="177.4" width="41.4" height="195.6" fill="#fff"/><rect x="981.1" y="373.0" width="41.4" height="23.0" fill="url(#pSub)"/><rect x="1022.5" y="83.5" width="41.4" height="106.3" fill="url(#pG2)"/><rect x="1022.5" y="189.8" width="41.4" height="22.6" fill="url(#pS)"/><rect x="1022.5" y="212.4" width="41.4" height="166.6" fill="#fff"/><rect x="1022.5" y="379.0" width="41.4" height="17.0" fill="url(#pSub)"/><rect x="1105.2" y="80.2" width="41.4" height="97.8" fill="url(#pG2)"/><rect x="1105.2" y="178.0" width="41.4" height="58.5" fill="url(#pS)"/><rect x="1105.2" y="236.5" width="41.4" height="144.5" fill="#fff"/><rect x="1105.2" y="381.0" width="41.4" height="15.0" fill="url(#pSub)"/><rect x="1146.6" y="85.8" width="41.4" height="75.9" fill="url(#pG2)"/><rect x="1146.6" y="161.7" width="41.4" height="18.6" fill="url(#pS)"/><rect x="1146.6" y="180.3" width="41.4" height="203.2" fill="#fff"/><rect x="1146.6" y="383.5" width="41.4" height="12.5" fill="url(#pSub)"/><rect x="1188.0" y="82.1" width="41.4" height="70.9" fill="url(#pG2)"/><rect x="1188.0" y="153.0" width="41.4" height="20.7" fill="url(#pS)"/><rect x="1188.0" y="173.7" width="41.4" height="201.1" fill="#fff"/><rect x="1188.0" y="374.8" width="41.4" height="21.2" fill="url(#pSub)"/><rect x="1229.3" y="82.2" width="41.4" height="82.0" fill="url(#pG2)"/><rect x="1229.3" y="164.2" width="41.4" height="26.6" fill="url(#pS)"/><rect x="1229.3" y="190.8" width="41.4" height="182.7" fill="#fff"/><rect x="1229.3" y="373.5" width="41.4" height="22.5" fill="url(#pSub)"/><rect x="1312.1" y="80.2" width="41.4" height="94.5" fill="url(#pG2)"/><rect x="1312.1" y="174.7" width="41.4" height="57.2" fill="url(#pS)"/><rect x="1312.1" y="231.9" width="41.4" height="144.9" fill="#fff"/><rect x="1312.1" y="376.8" width="41.4" height="19.2" fill="url(#pSub)"/><rect x="1353.5" y="85.8" width="41.4" height="80.2" fill="url(#pG2)"/><rect x="1353.5" y="166.0" width="41.4" height="35.3" fill="url(#pS)"/><rect x="1353.5" y="201.3" width="41.4" height="178.5" fill="#fff"/><rect x="1353.5" y="379.8" width="41.4" height="16.2" fill="url(#pSub)"/><rect x="1394.9" y="81.7" width="41.4" height="65.8" fill="url(#pG2)"/><rect x="1394.9" y="147.5" width="41.4" height="35.9" fill="url(#pS)"/><rect x="1394.9" y="183.4" width="41.4" height="190.1" fill="#fff"/><rect x="1394.9" y="373.5" width="41.4" height="22.5" fill="url(#pSub)"/><rect x="1436.2" y="82.2" width="41.4" height="66.2" fill="url(#pG2)"/><rect x="1436.2" y="148.4" width="41.4" height="25.4" fill="url(#pS)"/><rect x="1436.2" y="173.8" width="41.4" height="197.2" fill="#fff"/><rect x="1436.2" y="371.0" width="41.4" height="25.0" fill="url(#pSub)"/><rect x="898.3" y="233.5" width="41.4" height="162.5" fill="none" stroke="#2a2a2a" stroke-width="4.6"/><path d="M898.3 380.5 H939.7" stroke="#000" stroke-width="4.6"/><path d="M898.3 380.5 V396.0 M939.7 380.5 V396.0" stroke="#000" stroke-width="4.6"/><rect x="939.7" y="189.4" width="41.4" height="206.6" fill="none" stroke="#2a2a2a" stroke-width="4.6"/><path d="M939.7 387.0 H981.1" stroke="#000" stroke-width="4.6"/><path d="M939.7 387.0 V396.0 M981.1 387.0 V396.0" stroke="#000" stroke-width="4.6"/><rect x="981.1" y="177.4" width="41.4" height="218.6" fill="none" stroke="#2a2a2a" stroke-width="4.6"/><path d="M981.1 373.0 H1022.5" stroke="#000" stroke-width="4.6"/><path d="M981.1 373.0 V396.0 M1022.5 373.0 V396.0" stroke="#000" stroke-width="4.6"/><rect x="1022.5" y="212.4" width="41.4" height="183.6" fill="none" stroke="#2a2a2a" stroke-width="4.6"/><path d="M1022.5 379.0 H1063.8" stroke="#000" stroke-width="4.6"/><path d="M1022.5 379.0 V396.0 M1063.8 379.0 V396.0" stroke="#000" stroke-width="4.6"/><rect x="1105.2" y="236.5" width="41.4" height="159.5" fill="none" stroke="#2a2a2a" stroke-width="4.6"/><path d="M1105.2 381.0 H1146.6" stroke="#000" stroke-width="4.6"/><path d="M1105.2 381.0 V396.0 M1146.6 381.0 V396.0" stroke="#000" stroke-width="4.6"/><rect x="1146.6" y="180.3" width="41.4" height="215.7" fill="none" stroke="#2a2a2a" stroke-width="4.6"/><path d="M1146.6 383.5 H1188.0" stroke="#000" stroke-width="4.6"/><path d="M1146.6 383.5 V396.0 M1188.0 383.5 V396.0" stroke="#000" stroke-width="4.6"/><rect x="1188.0" y="173.7" width="41.4" height="222.3" fill="none" stroke="#2a2a2a" stroke-width="4.6"/><path d="M1188.0 374.8 H1229.4" stroke="#000" stroke-width="4.6"/><path d="M1188.0 374.8 V396.0 M1229.4 374.8 V396.0" stroke="#000" stroke-width="4.6"/><rect x="1229.3" y="190.8" width="41.4" height="205.2" fill="none" stroke="#2a2a2a" stroke-width="4.6"/><path d="M1229.3 373.5 H1270.7" stroke="#000" stroke-width="4.6"/><path d="M1229.3 373.5 V396.0 M1270.7 373.5 V396.0" stroke="#000" stroke-width="4.6"/><rect x="1312.1" y="231.9" width="41.4" height="164.1" fill="none" stroke="#2a2a2a" stroke-width="4.6"/><path d="M1312.1 376.8 H1353.5" stroke="#000" stroke-width="4.6"/><path d="M1312.1 376.8 V396.0 M1353.5 376.8 V396.0" stroke="#000" stroke-width="4.6"/><rect x="1353.5" y="201.3" width="41.4" height="194.7" fill="none" stroke="#2a2a2a" stroke-width="4.6"/><path d="M1353.5 379.8 H1394.9" stroke="#000" stroke-width="4.6"/><path d="M1353.5 379.8 V396.0 M1394.9 379.8 V396.0" stroke="#000" stroke-width="4.6"/><rect x="1394.9" y="183.4" width="41.4" height="212.6" fill="none" stroke="#2a2a2a" stroke-width="4.6"/><path d="M1394.9 373.5 H1436.2" stroke="#000" stroke-width="4.6"/><path d="M1394.9 373.5 V396.0 M1436.2 373.5 V396.0" stroke="#000" stroke-width="4.6"/><rect x="1436.2" y="173.8" width="41.4" height="222.2" fill="none" stroke="#2a2a2a" stroke-width="4.6"/><path d="M1436.2 371.0 H1477.6" stroke="#000" stroke-width="4.6"/><path d="M1436.2 371.0 V396.0 M1477.6 371.0 V396.0" stroke="#000" stroke-width="4.6"/><path d="M895.3 81.0 H942.7" stroke="#000" stroke-width="5"/><path d="M898.3 81.0 V231.3 M939.7 81.0 V231.3" stroke="#000" stroke-width="6"/><path d="M898.3 180.8 H939.7" stroke="#000" stroke-width="5"/><path d="M936.7 84.3 H984.1" stroke="#000" stroke-width="5"/><path d="M939.7 84.3 V187.2 M981.1 84.3 V187.2" stroke="#000" stroke-width="6"/><path d="M939.7 172.0 H981.1" stroke="#000" stroke-width="5"/><path d="M978.1 83.5 H1025.5" stroke="#000" stroke-width="5"/><path d="M981.1 83.5 V175.2 M1022.5 83.5 V175.2" stroke="#000" stroke-width="6"/><path d="M981.1 159.1 H1022.5" stroke="#000" stroke-width="5"/><path d="M1019.5 83.5 H1066.8" stroke="#000" stroke-width="5"/><path d="M1022.5 83.5 V210.2 M1063.8 83.5 V210.2" stroke="#000" stroke-width="6"/><path d="M1022.5 189.8 H1063.8" stroke="#000" stroke-width="5"/><path d="M1102.2 80.2 H1149.6" stroke="#000" stroke-width="5"/><path d="M1105.2 80.2 V234.3 M1146.6 80.2 V234.3" stroke="#000" stroke-width="6"/><path d="M1105.2 178.0 H1146.6" stroke="#000" stroke-width="5"/><path d="M1143.6 85.8 H1191.0" stroke="#000" stroke-width="5"/><path d="M1146.6 85.8 V178.1 M1188.0 85.8 V178.1" stroke="#000" stroke-width="6"/><path d="M1146.6 161.7 H1188.0" stroke="#000" stroke-width="5"/><path d="M1185.0 82.1 H1232.4" stroke="#000" stroke-width="5"/><path d="M1188.0 82.1 V171.5 M1229.4 82.1 V171.5" stroke="#000" stroke-width="6"/><path d="M1188.0 153.0 H1229.4" stroke="#000" stroke-width="5"/><path d="M1226.3 82.2 H1273.7" stroke="#000" stroke-width="5"/><path d="M1229.3 82.2 V188.6 M1270.7 82.2 V188.6" stroke="#000" stroke-width="6"/><path d="M1229.3 164.2 H1270.7" stroke="#000" stroke-width="5"/><path d="M1309.1 80.2 H1356.5" stroke="#000" stroke-width="5"/><path d="M1312.1 80.2 V229.7 M1353.5 80.2 V229.7" stroke="#000" stroke-width="6"/><path d="M1312.1 174.7 H1353.5" stroke="#000" stroke-width="5"/><path d="M1350.5 85.8 H1397.9" stroke="#000" stroke-width="5"/><path d="M1353.5 85.8 V199.1 M1394.9 85.8 V199.1" stroke="#000" stroke-width="6"/><path d="M1353.5 166.0 H1394.9" stroke="#000" stroke-width="5"/><path d="M1391.9 81.7 H1439.2" stroke="#000" stroke-width="5"/><path d="M1394.9 81.7 V181.2 M1436.2 81.7 V181.2" stroke="#000" stroke-width="6"/><path d="M1394.9 147.5 H1436.2" stroke="#000" stroke-width="5"/><path d="M1433.2 82.2 H1480.6" stroke="#000" stroke-width="5"/><path d="M1436.2 82.2 V171.6 M1477.6 82.2 V171.6" stroke="#000" stroke-width="6"/><path d="M1436.2 148.4 H1477.6" stroke="#000" stroke-width="5"/><rect x="906.5" y="76.8" width="25" height="5" rx="2.4" fill="#000"/><rect x="906.5" y="176.6" width="25" height="5" rx="2.4" fill="#000"/><rect x="906.5" y="229.3" width="25" height="5" rx="2.4" fill="#2a2a2a"/><rect x="906.5" y="376.3" width="25" height="5" rx="2.4" fill="#000"/><rect x="947.9" y="80.1" width="25" height="5" rx="2.4" fill="#000"/><rect x="947.9" y="167.8" width="25" height="5" rx="2.4" fill="#000"/><rect x="947.9" y="185.2" width="25" height="5" rx="2.4" fill="#2a2a2a"/><rect x="947.9" y="382.8" width="25" height="5" rx="2.4" fill="#000"/><rect x="989.3" y="79.3" width="25" height="5" rx="2.4" fill="#000"/><rect x="989.3" y="154.9" width="25" height="5" rx="2.4" fill="#000"/><rect x="989.3" y="173.2" width="25" height="5" rx="2.4" fill="#2a2a2a"/><rect x="989.3" y="368.8" width="25" height="5" rx="2.4" fill="#000"/><rect x="1030.6" y="79.3" width="25" height="5" rx="2.4" fill="#000"/><rect x="1030.6" y="185.6" width="25" height="5" rx="2.4" fill="#000"/><rect x="1030.6" y="208.2" width="25" height="5" rx="2.4" fill="#2a2a2a"/><rect x="1030.6" y="374.8" width="25" height="5" rx="2.4" fill="#000"/><rect x="1113.4" y="76.0" width="25" height="5" rx="2.4" fill="#000"/><rect x="1113.4" y="173.8" width="25" height="5" rx="2.4" fill="#000"/><rect x="1113.4" y="232.3" width="25" height="5" rx="2.4" fill="#2a2a2a"/><rect x="1113.4" y="376.8" width="25" height="5" rx="2.4" fill="#000"/><rect x="1154.8" y="81.6" width="25" height="5" rx="2.4" fill="#000"/><rect x="1154.8" y="157.5" width="25" height="5" rx="2.4" fill="#000"/><rect x="1154.8" y="176.1" width="25" height="5" rx="2.4" fill="#2a2a2a"/><rect x="1154.8" y="379.3" width="25" height="5" rx="2.4" fill="#000"/><rect x="1196.2" y="77.9" width="25" height="5" rx="2.4" fill="#000"/><rect x="1196.2" y="148.8" width="25" height="5" rx="2.4" fill="#000"/><rect x="1196.2" y="169.5" width="25" height="5" rx="2.4" fill="#2a2a2a"/><rect x="1196.2" y="370.6" width="25" height="5" rx="2.4" fill="#000"/><rect x="1237.5" y="78.0" width="25" height="5" rx="2.4" fill="#000"/><rect x="1237.5" y="160.0" width="25" height="5" rx="2.4" fill="#000"/><rect x="1237.5" y="186.6" width="25" height="5" rx="2.4" fill="#2a2a2a"/><rect x="1237.5" y="369.3" width="25" height="5" rx="2.4" fill="#000"/><rect x="1320.3" y="76.0" width="25" height="5" rx="2.4" fill="#000"/><rect x="1320.3" y="170.5" width="25" height="5" rx="2.4" fill="#000"/><rect x="1320.3" y="227.7" width="25" height="5" rx="2.4" fill="#2a2a2a"/><rect x="1320.3" y="372.6" width="25" height="5" rx="2.4" fill="#000"/><rect x="1361.7" y="81.6" width="25" height="5" rx="2.4" fill="#000"/><rect x="1361.7" y="161.8" width="25" height="5" rx="2.4" fill="#000"/><rect x="1361.7" y="197.1" width="25" height="5" rx="2.4" fill="#2a2a2a"/><rect x="1361.7" y="375.6" width="25" height="5" rx="2.4" fill="#000"/><rect x="1403.1" y="77.5" width="25" height="5" rx="2.4" fill="#000"/><rect x="1403.1" y="143.3" width="25" height="5" rx="2.4" fill="#000"/><rect x="1403.1" y="179.2" width="25" height="5" rx="2.4" fill="#2a2a2a"/><rect x="1403.1" y="369.3" width="25" height="5" rx="2.4" fill="#000"/><rect x="1444.4" y="78.0" width="25" height="5" rx="2.4" fill="#000"/><rect x="1444.4" y="144.2" width="25" height="5" rx="2.4" fill="#000"/><rect x="1444.4" y="169.6" width="25" height="5" rx="2.4" fill="#2a2a2a"/><rect x="1444.4" y="366.8" width="25" height="5" rx="2.4" fill="#000"/><rect x="906.5" y="70.5" width="25" height="5.4" rx="2.5" fill="#000"/><path d="M919.0 73.0 V81.0" stroke="#000" stroke-width="2.4"/><rect x="989.3" y="76.5" width="25" height="5.4" rx="2.5" fill="#000"/><rect x="1030.6" y="74.0" width="25" height="5.4" rx="2.5" fill="#000"/><rect x="1113.4" y="74.0" width="25" height="5.4" rx="2.5" fill="#000"/><rect x="1403.1" y="73.0" width="25" height="5.4" rx="2.5" fill="#000"/><rect x="906.5" y="227.0" width="25" height="5.4" rx="2.5" fill="#2a2a2a"/><rect x="1030.6" y="206.5" width="25" height="5.4" rx="2.5" fill="#2a2a2a"/><rect x="947.9" y="183.5" width="25" height="5.4" rx="2.5" fill="#2a2a2a"/><rect x="1403.1" y="367.0" width="25" height="5.4" rx="2.5" fill="#000"/><rect x="1444.4" y="364.0" width="25" height="5.4" rx="2.5" fill="#000"/><rect x="1403.1" y="140.5" width="25" height="5.4" rx="2.5" fill="#000"/><rect x="1444.4" y="142.0" width="25" height="5.4" rx="2.5" fill="#000"/><rect x="1444.4" y="162.1" width="25" height="5.4" rx="2.5" fill="#2a2a2a"/><rect x="1320.3" y="169.5" width="25" height="5.4" rx="2.5" fill="#000"/><rect x="1113.4" y="173.0" width="25" height="5.4" rx="2.5" fill="#000"/><path d="M878.2 21.6 V396.0" stroke="#000" stroke-width="5.8" stroke-linecap="round"/><path d="M876 396.0 H1499" stroke="#000" stroke-width="5.6" stroke-linecap="round"/><path d="M873 396.0 H878" stroke="#000" stroke-width="5" stroke-linecap="round"/><text x="870.3" y="405.9" font-size="27.5" font-weight="bold" text-anchor="end">0</text><path d="M873 333.4 H878" stroke="#000" stroke-width="5" stroke-linecap="round"/><text x="870.3" y="343.3" font-size="27.5" font-weight="bold" text-anchor="end">20</text><path d="M873 270.9 H878" stroke="#000" stroke-width="5" stroke-linecap="round"/><text x="870.3" y="280.7" font-size="27.5" font-weight="bold" text-anchor="end">40</text><path d="M873 208.3 H878" stroke="#000" stroke-width="5" stroke-linecap="round"/><text x="870.3" y="218.2" font-size="27.5" font-weight="bold" text-anchor="end">60</text><path d="M873 145.7 H878" stroke="#000" stroke-width="5" stroke-linecap="round"/><text x="870.3" y="155.6" font-size="27.5" font-weight="bold" text-anchor="end">80</text><path d="M873 83.2 H878" stroke="#000" stroke-width="5" stroke-linecap="round"/><text x="870.3" y="93.0" font-size="27.5" font-weight="bold" text-anchor="end">100</text><path d="M873 20.6 H878" stroke="#000" stroke-width="5" stroke-linecap="round"/><text x="870.3" y="30.5" font-size="27.5" font-weight="bold" text-anchor="end">120</text><path d="M919.0 396.0 V401.0" stroke="#000" stroke-width="5" stroke-linecap="round"/><path d="M960.4 396.0 V401.0" stroke="#000" stroke-width="5" stroke-linecap="round"/><path d="M1001.8 396.0 V401.0" stroke="#000" stroke-width="5" stroke-linecap="round"/><path d="M1043.1 396.0 V401.0" stroke="#000" stroke-width="5" stroke-linecap="round"/><path d="M1084.5 396.0 V401.0" stroke="#000" stroke-width="5" stroke-linecap="round"/><path d="M1125.9 396.0 V401.0" stroke="#000" stroke-width="5" stroke-linecap="round"/><path d="M1167.3 396.0 V401.0" stroke="#000" stroke-width="5" stroke-linecap="round"/><path d="M1208.7 396.0 V401.0" stroke="#000" stroke-width="5" stroke-linecap="round"/><path d="M1250.0 396.0 V401.0" stroke="#000" stroke-width="5" stroke-linecap="round"/><path d="M1291.4 396.0 V401.0" stroke="#000" stroke-width="5" stroke-linecap="round"/><path d="M1332.8 396.0 V401.0" stroke="#000" stroke-width="5" stroke-linecap="round"/><path d="M1374.2 396.0 V401.0" stroke="#000" stroke-width="5" stroke-linecap="round"/><path d="M1415.6 396.0 V401.0" stroke="#000" stroke-width="5" stroke-linecap="round"/><path d="M1456.9 396.0 V401.0" stroke="#000" stroke-width="5" stroke-linecap="round"/><text transform="translate(926.0 423.5) rotate(-45)" font-size="22" font-weight="bold" text-anchor="end">Control</text><text transform="translate(967.4 423.5) rotate(-45)" font-size="22" font-weight="bold" text-anchor="end">0.4µM</text><text transform="translate(1008.8 423.5) rotate(-45)" font-size="22" font-weight="bold" text-anchor="end">2µM</text><text transform="translate(1050.1 423.5) rotate(-45)" font-size="22" font-weight="bold" text-anchor="end">10µM</text><text transform="translate(1132.9 423.5) rotate(-45)" font-size="22" font-weight="bold" text-anchor="end">Control</text><text transform="translate(1174.3 423.5) rotate(-45)" font-size="22" font-weight="bold" text-anchor="end">0.4µM</text><text transform="translate(1215.7 423.5) rotate(-45)" font-size="22" font-weight="bold" text-anchor="end">2µM</text><text transform="translate(1257.0 423.5) rotate(-45)" font-size="22" font-weight="bold" text-anchor="end">10µM</text><text transform="translate(1339.8 423.5) rotate(-45)" font-size="22" font-weight="bold" text-anchor="end">Control</text><text transform="translate(1381.2 423.5) rotate(-45)" font-size="22" font-weight="bold" text-anchor="end">0.4µM</text><text transform="translate(1422.6 423.5) rotate(-45)" font-size="22" font-weight="bold" text-anchor="end">2µM</text><text transform="translate(1463.9 423.5) rotate(-45)" font-size="22" font-weight="bold" text-anchor="end">10µM</text><text x="962.5" y="500.5" font-size="32" text-anchor="middle">16hr</text><text x="1182.6" y="500.5" font-size="32" text-anchor="middle">24hr</text><text x="1394.4" y="500.5" font-size="32" text-anchor="middle">48hr</text><text x="1182.9" y="27.3" font-size="33" text-anchor="middle">C666-1</text><text transform="translate(810.5 199.5) rotate(-90)" font-size="29" font-weight="bold" text-anchor="middle">Percentage</text><rect x="1528.3" y="28.9" width="25" height="29.4" rx="2" fill="url(#pSub)" stroke="#000" stroke-width="5.6"/><rect x="1528.3" y="69.7" width="25" height="28.9" rx="2" fill="#fff" stroke="#2a2a2a" stroke-width="5.6"/><rect x="1528.3" y="110.8" width="25" height="26.3" rx="2" fill="url(#pS)" stroke="#000" stroke-width="5.6"/><rect x="1528.3" y="152.0" width="25" height="29.4" rx="2" fill="url(#pG2)" stroke="#000" stroke-width="5.6"/><text x="1557.5" y="51.1" font-size="28">Sub G<tspan font-size="22" dy="6">1</tspan></text><text x="1557.5" y="92.3" font-size="28">G<tspan font-size="22" dy="6">0</tspan><tspan dy="-6">/G</tspan><tspan font-size="22" dy="6">1</tspan></text><text x="1557.5" y="131.7" font-size="28">S</text><text x="1557.5" y="174.5" font-size="28">G<tspan font-size="22" dy="6">2</tspan><tspan dy="-6">/M</tspan></text><rect x="898.3" y="661.7" width="41.4" height="88.3" fill="url(#pG2)"/><rect x="898.3" y="750.0" width="41.4" height="61.2" fill="url(#pS)"/><rect x="898.3" y="811.2" width="41.4" height="160.8" fill="#fff"/><rect x="939.7" y="658.2" width="41.4" height="54.3" fill="url(#pG2)"/><rect x="939.7" y="712.5" width="41.4" height="33.5" fill="url(#pS)"/><rect x="939.7" y="746.0" width="41.4" height="226.0" fill="#fff"/><rect x="981.1" y="659.2" width="41.4" height="20.3" fill="url(#pG2)"/><rect x="981.1" y="679.5" width="41.4" height="10.6" fill="url(#pS)"/><rect x="981.1" y="690.1" width="41.4" height="281.9" fill="#fff"/><rect x="1022.5" y="660.2" width="41.4" height="25.4" fill="url(#pG2)"/><rect x="1022.5" y="685.6" width="41.4" height="14.7" fill="url(#pS)"/><rect x="1022.5" y="700.3" width="41.4" height="271.7" fill="#fff"/><rect x="1105.2" y="660.4" width="41.4" height="95.8" fill="url(#pG2)"/><rect x="1105.2" y="756.2" width="41.4" height="58.0" fill="url(#pS)"/><rect x="1105.2" y="814.2" width="41.4" height="157.8" fill="#fff"/><rect x="1146.6" y="658.1" width="41.4" height="88.9" fill="url(#pG2)"/><rect x="1146.6" y="747.0" width="41.4" height="38.7" fill="url(#pS)"/><rect x="1146.6" y="785.7" width="41.4" height="186.3" fill="#fff"/><rect x="1188.0" y="660.0" width="41.4" height="22.5" fill="url(#pG2)"/><rect x="1188.0" y="682.5" width="41.4" height="29.5" fill="url(#pS)"/><rect x="1188.0" y="712.0" width="41.4" height="260.0" fill="#fff"/><rect x="1229.3" y="661.3" width="41.4" height="29.5" fill="url(#pG2)"/><rect x="1229.3" y="690.8" width="41.4" height="15.7" fill="url(#pS)"/><rect x="1229.3" y="706.5" width="41.4" height="265.5" fill="#fff"/><rect x="1312.1" y="659.5" width="41.4" height="75.5" fill="url(#pG2)"/><rect x="1312.1" y="735.0" width="41.4" height="60.0" fill="url(#pS)"/><rect x="1312.1" y="795.0" width="41.4" height="177.0" fill="#fff"/><rect x="1353.5" y="658.5" width="41.4" height="78.4" fill="url(#pG2)"/><rect x="1353.5" y="736.9" width="41.4" height="28.6" fill="url(#pS)"/><rect x="1353.5" y="765.5" width="41.4" height="206.5" fill="#fff"/><rect x="1394.9" y="660.9" width="41.4" height="33.6" fill="url(#pG2)"/><rect x="1394.9" y="694.5" width="41.4" height="29.5" fill="url(#pS)"/><rect x="1394.9" y="724.0" width="41.4" height="238.8" fill="#fff"/><rect x="1394.9" y="962.8" width="41.4" height="9.2" fill="url(#pSub)"/><rect x="1436.2" y="659.0" width="41.4" height="10.7" fill="url(#pG2)"/><rect x="1436.2" y="669.7" width="41.4" height="31.3" fill="url(#pS)"/><rect x="1436.2" y="701.0" width="41.4" height="259.2" fill="#fff"/><rect x="1436.2" y="960.2" width="41.4" height="11.8" fill="url(#pSub)"/><rect x="898.3" y="811.2" width="41.4" height="160.8" fill="none" stroke="#000" stroke-width="4.6"/><rect x="939.7" y="746.0" width="41.4" height="226.0" fill="none" stroke="#000" stroke-width="4.6"/><rect x="981.1" y="690.1" width="41.4" height="281.9" fill="none" stroke="#000" stroke-width="4.6"/><rect x="1022.5" y="700.3" width="41.4" height="271.7" fill="none" stroke="#000" stroke-width="4.6"/><rect x="1105.2" y="814.2" width="41.4" height="157.8" fill="none" stroke="#000" stroke-width="4.6"/><rect x="1146.6" y="785.7" width="41.4" height="186.3" fill="none" stroke="#000" stroke-width="4.6"/><rect x="1188.0" y="712.0" width="41.4" height="260.0" fill="none" stroke="#000" stroke-width="4.6"/><rect x="1229.3" y="706.5" width="41.4" height="265.5" fill="none" stroke="#000" stroke-width="4.6"/><rect x="1312.1" y="795.0" width="41.4" height="177.0" fill="none" stroke="#000" stroke-width="4.6"/><rect x="1353.5" y="765.5" width="41.4" height="206.5" fill="none" stroke="#000" stroke-width="4.6"/><rect x="1394.9" y="724.0" width="41.4" height="248.0" fill="none" stroke="#000" stroke-width="4.6"/><path d="M1394.9 962.8 H1436.2" stroke="#000" stroke-width="4.6"/><path d="M1394.9 962.8 V972.0 M1436.2 962.8 V972.0" stroke="#000" stroke-width="4.6"/><rect x="1436.2" y="701.0" width="41.4" height="271.0" fill="none" stroke="#000" stroke-width="4.6"/><path d="M1436.2 960.2 H1477.6" stroke="#000" stroke-width="4.6"/><path d="M1436.2 960.2 V972.0 M1477.6 960.2 V972.0" stroke="#000" stroke-width="4.6"/><path d="M895.3 661.7 H942.7" stroke="#000" stroke-width="5"/><path d="M898.3 661.7 V809.0 M939.7 661.7 V809.0" stroke="#000" stroke-width="6"/><path d="M898.3 750.0 H939.7" stroke="#000" stroke-width="5"/><path d="M936.7 658.2 H984.1" stroke="#000" stroke-width="5"/><path d="M939.7 658.2 V743.8 M981.1 658.2 V743.8" stroke="#000" stroke-width="6"/><path d="M939.7 712.5 H981.1" stroke="#000" stroke-width="5"/><path d="M978.1 659.2 H1025.5" stroke="#000" stroke-width="5"/><path d="M981.1 659.2 V687.9 M1022.5 659.2 V687.9" stroke="#000" stroke-width="6"/><path d="M981.1 679.5 H1022.5" stroke="#000" stroke-width="5"/><path d="M1019.5 660.2 H1066.8" stroke="#000" stroke-width="5"/><path d="M1022.5 660.2 V698.1 M1063.8 660.2 V698.1" stroke="#000" stroke-width="6"/><path d="M1022.5 685.6 H1063.8" stroke="#000" stroke-width="5"/><path d="M1102.2 660.4 H1149.6" stroke="#000" stroke-width="5"/><path d="M1105.2 660.4 V812.0 M1146.6 660.4 V812.0" stroke="#000" stroke-width="6"/><path d="M1105.2 756.2 H1146.6" stroke="#000" stroke-width="5"/><path d="M1143.6 658.1 H1191.0" stroke="#000" stroke-width="5"/><path d="M1146.6 658.1 V783.5 M1188.0 658.1 V783.5" stroke="#000" stroke-width="6"/><path d="M1146.6 747.0 H1188.0" stroke="#000" stroke-width="5"/><path d="M1185.0 660.0 H1232.4" stroke="#000" stroke-width="5"/><path d="M1188.0 660.0 V709.8 M1229.4 660.0 V709.8" stroke="#000" stroke-width="6"/><path d="M1188.0 682.5 H1229.4" stroke="#000" stroke-width="5"/><path d="M1226.3 661.3 H1273.7" stroke="#000" stroke-width="5"/><path d="M1229.3 661.3 V704.3 M1270.7 661.3 V704.3" stroke="#000" stroke-width="6"/><path d="M1229.3 690.8 H1270.7" stroke="#000" stroke-width="5"/><path d="M1309.1 659.5 H1356.5" stroke="#000" stroke-width="5"/><path d="M1312.1 659.5 V792.8 M1353.5 659.5 V792.8" stroke="#000" stroke-width="6"/><path d="M1312.1 735.0 H1353.5" stroke="#000" stroke-width="5"/><path d="M1350.5 658.5 H1397.9" stroke="#000" stroke-width="5"/><path d="M1353.5 658.5 V763.3 M1394.9 658.5 V763.3" stroke="#000" stroke-width="6"/><path d="M1353.5 736.9 H1394.9" stroke="#000" stroke-width="5"/><path d="M1391.9 660.9 H1439.2" stroke="#000" stroke-width="5"/><path d="M1394.9 660.9 V721.8 M1436.2 660.9 V721.8" stroke="#000" stroke-width="6"/><path d="M1394.9 694.5 H1436.2" stroke="#000" stroke-width="5"/><path d="M1433.2 659.0 H1480.6" stroke="#000" stroke-width="5"/><path d="M1436.2 659.0 V698.8 M1477.6 659.0 V698.8" stroke="#000" stroke-width="6"/><path d="M1436.2 669.7 H1477.6" stroke="#000" stroke-width="5"/><rect x="906.5" y="657.5" width="25" height="5" rx="2.4" fill="#000"/><rect x="906.5" y="745.8" width="25" height="5" rx="2.4" fill="#000"/><rect x="906.5" y="807.0" width="25" height="5" rx="2.4" fill="#000"/><rect x="947.9" y="654.0" width="25" height="5" rx="2.4" fill="#000"/><rect x="947.9" y="708.3" width="25" height="5" rx="2.4" fill="#000"/><rect x="947.9" y="741.8" width="25" height="5" rx="2.4" fill="#000"/><rect x="989.3" y="655.0" width="25" height="5" rx="2.4" fill="#000"/><rect x="989.3" y="675.3" width="25" height="5" rx="2.4" fill="#000"/><rect x="989.3" y="685.9" width="25" height="5" rx="2.4" fill="#000"/><rect x="1030.6" y="656.0" width="25" height="5" rx="2.4" fill="#000"/><rect x="1030.6" y="681.4" width="25" height="5" rx="2.4" fill="#000"/><rect x="1030.6" y="696.1" width="25" height="5" rx="2.4" fill="#000"/><rect x="1113.4" y="656.2" width="25" height="5" rx="2.4" fill="#000"/><rect x="1113.4" y="752.0" width="25" height="5" rx="2.4" fill="#000"/><rect x="1113.4" y="810.0" width="25" height="5" rx="2.4" fill="#000"/><rect x="1154.8" y="653.9" width="25" height="5" rx="2.4" fill="#000"/><rect x="1154.8" y="742.8" width="25" height="5" rx="2.4" fill="#000"/><rect x="1154.8" y="781.5" width="25" height="5" rx="2.4" fill="#000"/><rect x="1196.2" y="655.8" width="25" height="5" rx="2.4" fill="#000"/><rect x="1196.2" y="678.3" width="25" height="5" rx="2.4" fill="#000"/><rect x="1196.2" y="707.8" width="25" height="5" rx="2.4" fill="#000"/><rect x="1237.5" y="657.1" width="25" height="5" rx="2.4" fill="#000"/><rect x="1237.5" y="686.6" width="25" height="5" rx="2.4" fill="#000"/><rect x="1237.5" y="702.3" width="25" height="5" rx="2.4" fill="#000"/><rect x="1320.3" y="655.3" width="25" height="5" rx="2.4" fill="#000"/><rect x="1320.3" y="730.8" width="25" height="5" rx="2.4" fill="#000"/><rect x="1320.3" y="790.8" width="25" height="5" rx="2.4" fill="#000"/><rect x="1361.7" y="654.3" width="25" height="5" rx="2.4" fill="#000"/><rect x="1361.7" y="732.7" width="25" height="5" rx="2.4" fill="#000"/><rect x="1361.7" y="761.3" width="25" height="5" rx="2.4" fill="#000"/><rect x="1403.1" y="656.7" width="25" height="5" rx="2.4" fill="#000"/><rect x="1403.1" y="690.3" width="25" height="5" rx="2.4" fill="#000"/><rect x="1403.1" y="719.8" width="25" height="5" rx="2.4" fill="#000"/><rect x="1403.1" y="958.6" width="25" height="5" rx="2.4" fill="#000"/><rect x="1444.4" y="654.8" width="25" height="5" rx="2.4" fill="#000"/><rect x="1444.4" y="665.5" width="25" height="5" rx="2.4" fill="#000"/><rect x="1444.4" y="696.8" width="25" height="5" rx="2.4" fill="#000"/><rect x="1444.4" y="956.0" width="25" height="5" rx="2.4" fill="#000"/><rect x="906.5" y="648.5" width="25" height="5.4" rx="2.5" fill="#000"/><path d="M919.0 651.0 V660.0" stroke="#000" stroke-width="2.4"/><rect x="906.5" y="801.5" width="25" height="5.4" rx="2.5" fill="#000"/><rect x="1113.4" y="651.5" width="25" height="5.4" rx="2.5" fill="#000"/><rect x="1320.3" y="648.2" width="25" height="5.4" rx="2.5" fill="#000"/><path d="M1332.8 650.7 V659.7" stroke="#000" stroke-width="2.4"/><rect x="1320.3" y="727.5" width="25" height="5.4" rx="2.5" fill="#000"/><rect x="1320.3" y="782.5" width="25" height="5.4" rx="2.5" fill="#000"/><path d="M1332.8 785.0 V793.0" stroke="#000" stroke-width="2.4"/><rect x="1403.1" y="649.2" width="25" height="5.4" rx="2.5" fill="#000"/><path d="M1415.6 651.7 V660.7" stroke="#000" stroke-width="2.4"/><rect x="1403.1" y="687.0" width="25" height="5.4" rx="2.5" fill="#000"/><rect x="1403.1" y="708.5" width="25" height="5.4" rx="2.5" fill="#000"/><path d="M1415.6 711.0 V719.0" stroke="#000" stroke-width="2.4"/><rect x="1444.4" y="651.0" width="25" height="5.4" rx="2.5" fill="#000"/><rect x="1444.4" y="692.0" width="25" height="5.4" rx="2.5" fill="#000"/><rect x="1403.1" y="958.0" width="25" height="5.4" rx="2.5" fill="#000"/><rect x="1444.4" y="955.5" width="25" height="5.4" rx="2.5" fill="#000"/><path d="M878.2 597.6 V972.0" stroke="#000" stroke-width="5.8" stroke-linecap="round"/><path d="M876 972.0 H1499" stroke="#000" stroke-width="5.6" stroke-linecap="round"/><path d="M873 972.0 H878" stroke="#000" stroke-width="5" stroke-linecap="round"/><text x="870.3" y="981.9" font-size="27.5" font-weight="bold" text-anchor="end">0</text><path d="M873 909.4 H878" stroke="#000" stroke-width="5" stroke-linecap="round"/><text x="870.3" y="919.3" font-size="27.5" font-weight="bold" text-anchor="end">20</text><path d="M873 846.9 H878" stroke="#000" stroke-width="5" stroke-linecap="round"/><text x="870.3" y="856.7" font-size="27.5" font-weight="bold" text-anchor="end">40</text><path d="M873 784.3 H878" stroke="#000" stroke-width="5" stroke-linecap="round"/><text x="870.3" y="794.2" font-size="27.5" font-weight="bold" text-anchor="end">60</text><path d="M873 721.7 H878" stroke="#000" stroke-width="5" stroke-linecap="round"/><text x="870.3" y="731.6" font-size="27.5" font-weight="bold" text-anchor="end">80</text><path d="M873 659.2 H878" stroke="#000" stroke-width="5" stroke-linecap="round"/><text x="870.3" y="669.0" font-size="27.5" font-weight="bold" text-anchor="end">100</text><path d="M873 596.6 H878" stroke="#000" stroke-width="5" stroke-linecap="round"/><text x="870.3" y="606.5" font-size="27.5" font-weight="bold" text-anchor="end">120</text><path d="M919.0 972.0 V977.0" stroke="#000" stroke-width="5" stroke-linecap="round"/><path d="M960.4 972.0 V977.0" stroke="#000" stroke-width="5" stroke-linecap="round"/><path d="M1001.8 972.0 V977.0" stroke="#000" stroke-width="5" stroke-linecap="round"/><path d="M1043.1 972.0 V977.0" stroke="#000" stroke-width="5" stroke-linecap="round"/><path d="M1084.5 972.0 V977.0" stroke="#000" stroke-width="5" stroke-linecap="round"/><path d="M1125.9 972.0 V977.0" stroke="#000" stroke-width="5" stroke-linecap="round"/><path d="M1167.3 972.0 V977.0" stroke="#000" stroke-width="5" stroke-linecap="round"/><path d="M1208.7 972.0 V977.0" stroke="#000" stroke-width="5" stroke-linecap="round"/><path d="M1250.0 972.0 V977.0" stroke="#000" stroke-width="5" stroke-linecap="round"/><path d="M1291.4 972.0 V977.0" stroke="#000" stroke-width="5" stroke-linecap="round"/><path d="M1332.8 972.0 V977.0" stroke="#000" stroke-width="5" stroke-linecap="round"/><path d="M1374.2 972.0 V977.0" stroke="#000" stroke-width="5" stroke-linecap="round"/><path d="M1415.6 972.0 V977.0" stroke="#000" stroke-width="5" stroke-linecap="round"/><path d="M1456.9 972.0 V977.0" stroke="#000" stroke-width="5" stroke-linecap="round"/><text transform="translate(926.0 999.5) rotate(-45)" font-size="22" font-weight="bold" text-anchor="end">Control</text><text transform="translate(967.4 999.5) rotate(-45)" font-size="22" font-weight="bold" text-anchor="end">0.4µM</text><text transform="translate(1008.8 999.5) rotate(-45)" font-size="22" font-weight="bold" text-anchor="end">2µM</text><text transform="translate(1050.1 999.5) rotate(-45)" font-size="22" font-weight="bold" text-anchor="end">10µM</text><text transform="translate(1132.9 999.5) rotate(-45)" font-size="22" font-weight="bold" text-anchor="end">Control</text><text transform="translate(1174.3 999.5) rotate(-45)" font-size="22" font-weight="bold" text-anchor="end">0.4µM</text><text transform="translate(1215.7 999.5) rotate(-45)" font-size="22" font-weight="bold" text-anchor="end">2µM</text><text transform="translate(1257.0 999.5) rotate(-45)" font-size="22" font-weight="bold" text-anchor="end">10µM</text><text transform="translate(1339.8 999.5) rotate(-45)" font-size="22" font-weight="bold" text-anchor="end">Control</text><text transform="translate(1381.2 999.5) rotate(-45)" font-size="22" font-weight="bold" text-anchor="end">0.4µM</text><text transform="translate(1422.6 999.5) rotate(-45)" font-size="22" font-weight="bold" text-anchor="end">2µM</text><text transform="translate(1463.9 999.5) rotate(-45)" font-size="22" font-weight="bold" text-anchor="end">10µM</text><text x="962.5" y="1079.5" font-size="32" text-anchor="middle">16hr</text><text x="1182.6" y="1079.5" font-size="32" text-anchor="middle">24hr</text><text x="1394.4" y="1079.5" font-size="32" text-anchor="middle">48hr</text><text x="1173.5" y="600.0" font-size="33" text-anchor="middle">HK1</text><text transform="translate(810.5 775.5) rotate(-90)" font-size="29" font-weight="bold" text-anchor="middle">Percentage</text><rect x="1528.3" y="604.9" width="25" height="29.4" rx="2" fill="url(#pSub)" stroke="#000" stroke-width="5.6"/><rect x="1528.3" y="645.7" width="25" height="28.9" rx="2" fill="#fff" stroke="#000" stroke-width="5.6"/><rect x="1528.3" y="686.8" width="25" height="26.3" rx="2" fill="url(#pS)" stroke="#000" stroke-width="5.6"/><rect x="1528.3" y="728.0" width="25" height="29.4" rx="2" fill="url(#pG2)" stroke="#000" stroke-width="5.6"/><text x="1557.5" y="627.1" font-size="28">Sub G<tspan font-size="22" dy="6">1</tspan></text><text x="1557.5" y="668.3" font-size="28">G<tspan font-size="22" dy="6">0</tspan><tspan dy="-6">/G</tspan><tspan font-size="22" dy="6">1</tspan></text><text x="1557.5" y="707.7" font-size="28">S</text><text x="1557.5" y="750.5" font-size="28">G<tspan font-size="22" dy="6">2</tspan><tspan dy="-6">/M</tspan></text></svg></body></html>
